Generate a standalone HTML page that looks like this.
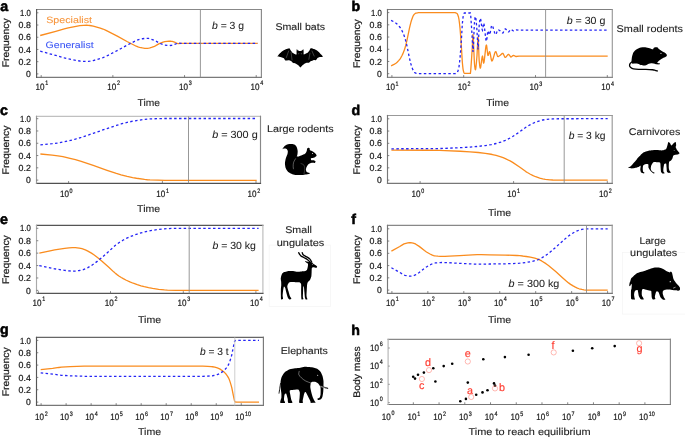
<!DOCTYPE html>
<html><head><meta charset="utf-8"><style>
html,body{margin:0;padding:0;background:#fff;}
svg{display:block;font-family:"Liberation Sans", sans-serif;}
text{text-rendering:geometricPrecision;}
svg{will-change:transform;}
</style></head><body>
<svg width="685" height="437" viewBox="0 0 685 437">
<rect width="685" height="437" fill="#fff"/>
<g>
<text x="0.30" y="10.90" font-size="14.2" text-anchor="start" fill="#000" stroke="#000" stroke-width="0.55" font-weight="bold">a</text>
<line x1="36.60" y1="9.50" x2="261.40" y2="9.50" stroke="#888" stroke-width="1.15" stroke-linecap="square"/>
<line x1="261.40" y1="9.50" x2="261.40" y2="77.30" stroke="#888" stroke-width="1.15" stroke-linecap="square"/>
<line x1="36.60" y1="77.30" x2="261.40" y2="77.30" stroke="#7a7a7a" stroke-width="1.15" stroke-linecap="square"/>
<line x1="36.60" y1="9.50" x2="36.60" y2="77.30" stroke="#555" stroke-width="1.15" stroke-linecap="square"/>
<line x1="36.60" y1="73.90" x2="38.40" y2="73.90" stroke="#666" stroke-width="0.8"/>
<text x="30.90" y="77.00" font-size="8.8" text-anchor="end" fill="#222" stroke="#222" stroke-width="0.22" textLength="4.80" lengthAdjust="spacingAndGlyphs">0</text>
<line x1="36.60" y1="61.68" x2="38.40" y2="61.68" stroke="#666" stroke-width="0.8"/>
<text x="30.90" y="64.78" font-size="8.8" text-anchor="end" fill="#222" stroke="#222" stroke-width="0.22" textLength="12.30" lengthAdjust="spacingAndGlyphs">0.2</text>
<line x1="36.60" y1="49.46" x2="38.40" y2="49.46" stroke="#666" stroke-width="0.8"/>
<text x="30.90" y="52.56" font-size="8.8" text-anchor="end" fill="#222" stroke="#222" stroke-width="0.22" textLength="12.30" lengthAdjust="spacingAndGlyphs">0.4</text>
<line x1="36.60" y1="37.24" x2="38.40" y2="37.24" stroke="#666" stroke-width="0.8"/>
<text x="30.90" y="40.34" font-size="8.8" text-anchor="end" fill="#222" stroke="#222" stroke-width="0.22" textLength="12.30" lengthAdjust="spacingAndGlyphs">0.6</text>
<line x1="36.60" y1="25.02" x2="38.40" y2="25.02" stroke="#666" stroke-width="0.8"/>
<text x="30.90" y="28.12" font-size="8.8" text-anchor="end" fill="#222" stroke="#222" stroke-width="0.22" textLength="12.30" lengthAdjust="spacingAndGlyphs">0.8</text>
<line x1="36.60" y1="12.80" x2="38.40" y2="12.80" stroke="#666" stroke-width="0.8"/>
<text x="30.90" y="15.90" font-size="8.8" text-anchor="end" fill="#222" stroke="#222" stroke-width="0.22" textLength="10.80" lengthAdjust="spacingAndGlyphs">1.0</text>
<line x1="41.20" y1="77.30" x2="41.20" y2="75.10" stroke="#666" stroke-width="0.8"/>
<text x="35.60" y="89.70" font-size="9.2" text-anchor="start" fill="#222" stroke="#222" stroke-width="0.22" textLength="9.00" lengthAdjust="spacingAndGlyphs">10</text>
<text x="45.30" y="85.00" font-size="6.4" text-anchor="start" fill="#222" stroke="#222" stroke-width="0.22" textLength="3.00" lengthAdjust="spacingAndGlyphs">1</text>
<line x1="112.87" y1="77.30" x2="112.87" y2="75.10" stroke="#666" stroke-width="0.8"/>
<text x="107.27" y="89.70" font-size="9.2" text-anchor="start" fill="#222" stroke="#222" stroke-width="0.22" textLength="9.00" lengthAdjust="spacingAndGlyphs">10</text>
<text x="116.97" y="85.00" font-size="6.4" text-anchor="start" fill="#222" stroke="#222" stroke-width="0.22" textLength="3.00" lengthAdjust="spacingAndGlyphs">2</text>
<line x1="184.54" y1="77.30" x2="184.54" y2="75.10" stroke="#666" stroke-width="0.8"/>
<text x="178.94" y="89.70" font-size="9.2" text-anchor="start" fill="#222" stroke="#222" stroke-width="0.22" textLength="9.00" lengthAdjust="spacingAndGlyphs">10</text>
<text x="188.64" y="85.00" font-size="6.4" text-anchor="start" fill="#222" stroke="#222" stroke-width="0.22" textLength="3.00" lengthAdjust="spacingAndGlyphs">3</text>
<line x1="256.21" y1="77.30" x2="256.21" y2="75.10" stroke="#666" stroke-width="0.8"/>
<text x="250.61" y="89.70" font-size="9.2" text-anchor="start" fill="#222" stroke="#222" stroke-width="0.22" textLength="9.00" lengthAdjust="spacingAndGlyphs">10</text>
<text x="260.31" y="85.00" font-size="6.4" text-anchor="start" fill="#222" stroke="#222" stroke-width="0.22" textLength="3.00" lengthAdjust="spacingAndGlyphs">4</text>
<text x="148.80" y="105.90" font-size="9.9" text-anchor="middle" fill="#222" stroke="#222" stroke-width="0.1" textLength="22.40" lengthAdjust="spacingAndGlyphs">Time</text>
<text x="9.00" y="42.80" font-size="9.6" text-anchor="middle" fill="#222" stroke="#222" stroke-width="0.22" textLength="48.80" lengthAdjust="spacingAndGlyphs" transform="rotate(-90 9.00 42.80)">Frequency</text>
<path d="M40.20 35.50 55.75 31.30 64.25 28.86 68.25 27.86 76.00 26.33 79.75 25.70 83.50 25.29 86.75 25.21 88.25 25.31 89.75 25.49 93.25 26.17 100.25 28.07 103.00 29.02 105.50 30.11 108.50 31.60 117.75 36.42 127.00 41.47 136.25 46.22 138.00 46.94 139.50 47.39 142.50 47.96 144.75 48.28 146.25 48.39 147.50 48.38 148.75 48.22 150.00 47.92 151.50 47.43 154.50 46.30 155.75 45.67 159.25 43.64 163.00 42.09 164.75 41.63 167.00 41.38 169.00 41.24 170.75 41.21 171.50 41.30 172.25 41.47 175.25 42.49 177.25 43.46 178.00 43.60 181.00 43.40 185.75 43.30 257.70 43.30" fill="none" stroke="#fa8c1e" stroke-width="1.3" stroke-linejoin="round"/>
<path d="M40.20 51.20 55.75 55.40 64.25 57.84 68.25 58.84 76.00 60.37 79.75 61.00 83.50 61.41 86.75 61.49 88.25 61.39 89.75 61.21 93.25 60.53 100.25 58.63 103.00 57.68 105.50 56.59 108.50 55.10 117.75 50.28 127.00 45.23 136.25 40.48 138.00 39.76 139.50 39.31 142.50 38.74 144.75 38.42 146.25 38.31 147.50 38.32 148.75 38.48 150.00 38.78 151.50 39.27 154.50 40.40 155.75 41.03 159.25 43.06 163.00 44.61 164.75 45.07 167.00 45.32 169.00 45.46 170.75 45.49 171.50 45.40 172.25 45.23 175.25 44.21 177.25 43.24 178.00 43.10 181.00 43.30 185.75 43.40 257.70 43.40" fill="none" stroke="#2424f5" stroke-width="1.3" stroke-dasharray="2.5 2.4"/>
<line x1="200.40" y1="9.50" x2="200.40" y2="77.30" stroke="#8c8c8c" stroke-width="0.9"/>
<text x="212.00" y="29.20" font-size="10.4" fill="#222" stroke="#222" stroke-width="0.06" textLength="32.00" lengthAdjust="spacingAndGlyphs"><tspan font-style="italic">b</tspan> = 3 g</text>
<text x="46.20" y="22.80" font-size="9.2" text-anchor="start" fill="#f7943a" stroke="#f7943a" stroke-width="0.08" textLength="45.80" lengthAdjust="spacingAndGlyphs">Specialist</text>
<text x="45.60" y="48.40" font-size="9.2" text-anchor="start" fill="#3a55f5" stroke="#3a55f5" stroke-width="0.08" textLength="48.00" lengthAdjust="spacingAndGlyphs">Generalist</text>
<text x="351.40" y="10.60" font-size="14.2" text-anchor="start" fill="#000" stroke="#000" stroke-width="0.55" font-weight="bold">b</text>
<line x1="387.50" y1="9.50" x2="612.30" y2="9.50" stroke="#808080" stroke-width="1.15" stroke-linecap="square"/>
<line x1="612.30" y1="9.50" x2="612.30" y2="77.30" stroke="#999" stroke-width="1.15" stroke-linecap="square"/>
<line x1="387.50" y1="77.30" x2="612.30" y2="77.30" stroke="#888" stroke-width="1.15" stroke-linecap="square"/>
<line x1="387.50" y1="9.50" x2="387.50" y2="77.30" stroke="#707070" stroke-width="1.15" stroke-linecap="square"/>
<line x1="387.50" y1="73.70" x2="389.30" y2="73.70" stroke="#666" stroke-width="0.8"/>
<text x="381.90" y="76.80" font-size="8.8" text-anchor="end" fill="#222" stroke="#222" stroke-width="0.22" textLength="4.80" lengthAdjust="spacingAndGlyphs">0</text>
<line x1="387.50" y1="61.48" x2="389.30" y2="61.48" stroke="#666" stroke-width="0.8"/>
<text x="381.90" y="64.58" font-size="8.8" text-anchor="end" fill="#222" stroke="#222" stroke-width="0.22" textLength="12.30" lengthAdjust="spacingAndGlyphs">0.2</text>
<line x1="387.50" y1="49.26" x2="389.30" y2="49.26" stroke="#666" stroke-width="0.8"/>
<text x="381.90" y="52.36" font-size="8.8" text-anchor="end" fill="#222" stroke="#222" stroke-width="0.22" textLength="12.30" lengthAdjust="spacingAndGlyphs">0.4</text>
<line x1="387.50" y1="37.04" x2="389.30" y2="37.04" stroke="#666" stroke-width="0.8"/>
<text x="381.90" y="40.14" font-size="8.8" text-anchor="end" fill="#222" stroke="#222" stroke-width="0.22" textLength="12.30" lengthAdjust="spacingAndGlyphs">0.6</text>
<line x1="387.50" y1="24.82" x2="389.30" y2="24.82" stroke="#666" stroke-width="0.8"/>
<text x="381.90" y="27.92" font-size="8.8" text-anchor="end" fill="#222" stroke="#222" stroke-width="0.22" textLength="12.30" lengthAdjust="spacingAndGlyphs">0.8</text>
<line x1="387.50" y1="12.60" x2="389.30" y2="12.60" stroke="#666" stroke-width="0.8"/>
<text x="381.90" y="15.70" font-size="8.8" text-anchor="end" fill="#222" stroke="#222" stroke-width="0.22" textLength="10.80" lengthAdjust="spacingAndGlyphs">1.0</text>
<line x1="391.90" y1="77.30" x2="391.90" y2="75.10" stroke="#666" stroke-width="0.8"/>
<text x="385.90" y="90.30" font-size="9.2" text-anchor="start" fill="#222" stroke="#222" stroke-width="0.22" textLength="9.00" lengthAdjust="spacingAndGlyphs">10</text>
<text x="395.60" y="85.60" font-size="6.4" text-anchor="start" fill="#222" stroke="#222" stroke-width="0.22" textLength="3.00" lengthAdjust="spacingAndGlyphs">1</text>
<line x1="463.70" y1="77.30" x2="463.70" y2="75.10" stroke="#666" stroke-width="0.8"/>
<text x="457.70" y="90.30" font-size="9.2" text-anchor="start" fill="#222" stroke="#222" stroke-width="0.22" textLength="9.00" lengthAdjust="spacingAndGlyphs">10</text>
<text x="467.40" y="85.60" font-size="6.4" text-anchor="start" fill="#222" stroke="#222" stroke-width="0.22" textLength="3.00" lengthAdjust="spacingAndGlyphs">2</text>
<line x1="535.50" y1="77.30" x2="535.50" y2="75.10" stroke="#666" stroke-width="0.8"/>
<text x="529.50" y="90.30" font-size="9.2" text-anchor="start" fill="#222" stroke="#222" stroke-width="0.22" textLength="9.00" lengthAdjust="spacingAndGlyphs">10</text>
<text x="539.20" y="85.60" font-size="6.4" text-anchor="start" fill="#222" stroke="#222" stroke-width="0.22" textLength="3.00" lengthAdjust="spacingAndGlyphs">3</text>
<line x1="607.30" y1="77.30" x2="607.30" y2="75.10" stroke="#666" stroke-width="0.8"/>
<text x="601.30" y="90.30" font-size="9.2" text-anchor="start" fill="#222" stroke="#222" stroke-width="0.22" textLength="9.00" lengthAdjust="spacingAndGlyphs">10</text>
<text x="611.00" y="85.60" font-size="6.4" text-anchor="start" fill="#222" stroke="#222" stroke-width="0.22" textLength="3.00" lengthAdjust="spacingAndGlyphs">4</text>
<text x="497.70" y="105.60" font-size="9.9" text-anchor="middle" fill="#222" stroke="#222" stroke-width="0.1" textLength="22.80" lengthAdjust="spacingAndGlyphs">Time</text>
<text x="359.80" y="43.60" font-size="9.6" text-anchor="middle" fill="#222" stroke="#222" stroke-width="0.22" textLength="48.80" lengthAdjust="spacingAndGlyphs" transform="rotate(-90 359.80 43.60)">Frequency</text>
<path d="M391.10 65.90 393.97 64.42 395.02 63.82 396.32 62.91 397.36 62.01 398.66 60.66 399.96 59.05 400.73 57.88 401.77 56.02 402.80 53.90 403.57 52.10 404.59 49.29 405.37 46.80 406.95 40.41 409.53 27.88 410.07 25.57 410.89 22.38 411.43 20.52 412.70 16.94 413.20 15.81 413.70 15.00 414.47 14.13 415.23 13.46 415.74 13.18 416.26 13.04 417.55 12.81 418.58 12.71 455.00 12.70 455.50 12.76 456.25 13.04 457.00 13.50 457.25 13.76 457.75 14.72 458.50 17.00 459.02 19.72 459.54 23.73 460.05 28.50 460.80 38.00 461.60 50.00 462.13 59.24 462.40 63.00 462.70 66.16 463.00 68.77 463.30 70.50 463.85 72.45 464.12 73.07 464.40 73.30 470.40 73.30 470.70 70.85 471.52 59.33 472.30 47.00 472.65 39.20 473.00 34.30 473.35 38.94 474.23 59.57 474.50 64.00 474.80 66.84 475.10 68.96 475.40 69.80 475.67 69.18 475.93 67.51 476.47 62.04 477.00 55.50 477.83 39.11 478.10 36.80 478.38 40.07 478.93 55.67 479.20 61.00 479.75 65.92 480.02 67.51 480.30 68.10 480.57 67.58 480.85 66.21 481.95 57.89 482.23 56.52 482.50 56.00 482.77 57.12 483.33 62.08 483.60 63.20 483.85 62.78 484.11 61.61 484.36 59.88 485.64 48.32 485.89 46.59 486.15 45.42 486.40 45.00 486.67 45.78 486.93 47.72 487.47 52.78 487.73 54.72 488.00 55.50 488.25 55.21 489.25 51.89 489.50 51.60 489.77 51.92 490.03 52.79 490.30 54.04 491.37 59.81 491.63 60.68 491.90 61.00 492.15 60.88 492.41 60.54 492.66 60.02 493.17 58.56 494.69 53.25 495.19 52.06 495.45 51.72 495.70 51.60 495.97 51.81 496.25 52.38 497.35 55.82 497.62 56.39 497.90 56.60 498.42 56.49 499.21 56.04 500.27 55.30 501.89 53.67 502.43 53.35 502.70 53.30 502.96 53.41 503.22 53.73 504.78 56.97 505.04 57.29 505.30 57.40 505.57 57.34 506.10 56.93 507.70 54.87 508.23 54.46 508.50 54.40 508.75 54.47 509.00 54.67 510.50 56.73 510.75 56.93 511.00 57.00 511.50 56.83 513.00 55.57 513.50 55.40 514.00 55.51 515.50 56.39 516.00 56.50 519.00 56.10 607.70 56.10" fill="none" stroke="#fa8c1e" stroke-width="1.3" stroke-linejoin="round"/>
<path d="M391.10 20.40 393.97 21.88 395.02 22.48 396.32 23.39 397.36 24.29 398.66 25.64 399.96 27.25 400.73 28.42 401.77 30.28 402.80 32.40 403.57 34.20 404.59 37.01 405.37 39.50 406.95 45.89 409.53 58.42 410.07 60.73 410.89 63.92 411.43 65.78 412.70 69.36 413.20 70.49 413.70 71.30 414.47 72.17 415.23 72.84 415.74 73.12 416.26 73.26 417.55 73.49 418.58 73.59 455.00 73.60 455.50 73.54 456.25 73.26 457.00 72.80 457.25 72.54 457.75 71.58 458.50 69.30 459.02 66.58 459.54 62.57 460.05 57.80 460.80 48.30 461.60 36.30 462.13 27.06 462.40 23.30 462.70 20.14 463.00 17.53 463.30 15.80 463.85 13.85 464.12 13.23 464.40 13.00 470.40 13.00 470.70 15.45 471.52 26.97 472.30 39.30 472.65 47.10 473.00 52.00 473.35 47.36 474.23 26.73 474.50 22.30 474.80 19.46 475.10 17.34 475.40 16.50 475.67 17.12 475.93 18.79 476.47 24.26 477.00 30.80 477.83 47.19 478.10 49.50 478.38 46.23 478.93 30.63 479.20 25.30 479.75 20.38 480.02 18.79 480.30 18.20 480.57 18.72 480.85 20.09 481.95 28.41 482.23 29.78 482.50 30.30 482.77 29.17 483.33 24.22 483.60 23.10 483.85 23.52 484.11 24.69 484.36 26.42 485.64 37.98 485.89 39.71 486.15 40.88 486.40 41.30 486.67 40.52 486.93 38.58 487.47 33.52 487.73 31.58 488.00 30.80 488.25 31.09 489.25 34.41 489.50 34.70 489.77 34.38 490.03 33.51 490.30 32.26 491.37 26.49 491.63 25.62 491.90 25.30 492.15 25.42 492.41 25.76 492.66 26.28 493.17 27.74 494.69 33.05 495.19 34.24 495.45 34.58 495.70 34.70 495.97 34.49 496.25 33.92 497.35 30.48 497.62 29.91 497.90 29.70 498.42 29.81 499.21 30.26 500.27 31.00 501.89 32.63 502.43 32.95 502.70 33.00 502.96 32.89 503.22 32.57 504.78 29.33 505.04 29.01 505.30 28.90 505.57 28.96 506.10 29.37 507.70 31.43 508.23 31.84 508.50 31.90 508.75 31.83 509.00 31.63 510.50 29.57 510.75 29.37 511.00 29.30 511.50 29.47 513.00 30.73 513.50 30.90 514.00 30.79 515.50 29.91 516.00 29.80 519.00 30.20 607.70 30.20" fill="none" stroke="#2424f5" stroke-width="1.3" stroke-dasharray="2.5 2.4"/>
<line x1="545.60" y1="9.50" x2="545.60" y2="77.30" stroke="#8c8c8c" stroke-width="0.9"/>
<text x="566.70" y="24.30" font-size="10.4" fill="#222" stroke="#222" stroke-width="0.06" textLength="38.60" lengthAdjust="spacingAndGlyphs"><tspan font-style="italic">b</tspan> = 30 g</text>
<text x="0.10" y="114.50" font-size="14.2" text-anchor="start" fill="#000" stroke="#000" stroke-width="0.55" font-weight="bold">c</text>
<line x1="36.50" y1="116.30" x2="260.50" y2="116.30" stroke="#c0c0c0" stroke-width="1.15" stroke-linecap="square"/>
<line x1="260.50" y1="116.30" x2="260.50" y2="183.30" stroke="#888" stroke-width="1.15" stroke-linecap="square"/>
<line x1="36.50" y1="183.30" x2="260.50" y2="183.30" stroke="#505050" stroke-width="1.15" stroke-linecap="square"/>
<line x1="36.50" y1="116.30" x2="36.50" y2="183.30" stroke="#999" stroke-width="1.15" stroke-linecap="square"/>
<line x1="36.50" y1="180.10" x2="38.30" y2="180.10" stroke="#666" stroke-width="0.8"/>
<text x="30.90" y="183.20" font-size="8.8" text-anchor="end" fill="#222" stroke="#222" stroke-width="0.22" textLength="4.80" lengthAdjust="spacingAndGlyphs">0</text>
<line x1="36.50" y1="167.82" x2="38.30" y2="167.82" stroke="#666" stroke-width="0.8"/>
<text x="30.90" y="170.92" font-size="8.8" text-anchor="end" fill="#222" stroke="#222" stroke-width="0.22" textLength="12.30" lengthAdjust="spacingAndGlyphs">0.2</text>
<line x1="36.50" y1="155.54" x2="38.30" y2="155.54" stroke="#666" stroke-width="0.8"/>
<text x="30.90" y="158.64" font-size="8.8" text-anchor="end" fill="#222" stroke="#222" stroke-width="0.22" textLength="12.30" lengthAdjust="spacingAndGlyphs">0.4</text>
<line x1="36.50" y1="143.26" x2="38.30" y2="143.26" stroke="#666" stroke-width="0.8"/>
<text x="30.90" y="146.36" font-size="8.8" text-anchor="end" fill="#222" stroke="#222" stroke-width="0.22" textLength="12.30" lengthAdjust="spacingAndGlyphs">0.6</text>
<line x1="36.50" y1="130.98" x2="38.30" y2="130.98" stroke="#666" stroke-width="0.8"/>
<text x="30.90" y="134.08" font-size="8.8" text-anchor="end" fill="#222" stroke="#222" stroke-width="0.22" textLength="12.30" lengthAdjust="spacingAndGlyphs">0.8</text>
<line x1="36.50" y1="118.70" x2="38.30" y2="118.70" stroke="#666" stroke-width="0.8"/>
<text x="30.90" y="121.80" font-size="8.8" text-anchor="end" fill="#222" stroke="#222" stroke-width="0.22" textLength="10.80" lengthAdjust="spacingAndGlyphs">1.0</text>
<line x1="68.60" y1="183.30" x2="68.60" y2="181.10" stroke="#666" stroke-width="0.8"/>
<text x="59.90" y="197.40" font-size="9.2" text-anchor="start" fill="#222" stroke="#222" stroke-width="0.22" textLength="9.00" lengthAdjust="spacingAndGlyphs">10</text>
<text x="69.60" y="192.70" font-size="6.4" text-anchor="start" fill="#222" stroke="#222" stroke-width="0.22" textLength="3.00" lengthAdjust="spacingAndGlyphs">0</text>
<line x1="162.40" y1="183.30" x2="162.40" y2="181.10" stroke="#666" stroke-width="0.8"/>
<text x="156.30" y="197.40" font-size="9.2" text-anchor="start" fill="#222" stroke="#222" stroke-width="0.22" textLength="9.00" lengthAdjust="spacingAndGlyphs">10</text>
<text x="166.00" y="192.70" font-size="6.4" text-anchor="start" fill="#222" stroke="#222" stroke-width="0.22" textLength="3.00" lengthAdjust="spacingAndGlyphs">1</text>
<line x1="256.00" y1="183.30" x2="256.00" y2="181.10" stroke="#666" stroke-width="0.8"/>
<text x="247.60" y="197.40" font-size="9.2" text-anchor="start" fill="#222" stroke="#222" stroke-width="0.22" textLength="9.00" lengthAdjust="spacingAndGlyphs">10</text>
<text x="257.30" y="192.70" font-size="6.4" text-anchor="start" fill="#222" stroke="#222" stroke-width="0.22" textLength="3.00" lengthAdjust="spacingAndGlyphs">2</text>
<text x="148.60" y="211.60" font-size="9.9" text-anchor="middle" fill="#222" stroke="#222" stroke-width="0.1" textLength="23.00" lengthAdjust="spacingAndGlyphs">Time</text>
<text x="9.00" y="150.00" font-size="9.6" text-anchor="middle" fill="#222" stroke="#222" stroke-width="0.22" textLength="48.80" lengthAdjust="spacingAndGlyphs" transform="rotate(-90 9.00 150.00)">Frequency</text>
<path d="M40.40 154.00 52.15 155.11 57.90 155.80 62.92 156.67 68.94 158.03 75.45 159.70 81.20 161.44 93.21 165.45 107.04 170.28 116.33 173.37 121.09 174.82 127.13 176.37 132.67 177.59 136.45 178.26 144.57 179.45 147.36 179.74 149.90 179.90 157.90 180.17 164.90 180.29 256.70 180.30" fill="none" stroke="#fa8c1e" stroke-width="1.3" stroke-linejoin="round"/>
<path d="M40.40 144.80 52.15 143.69 57.90 143.00 62.92 142.13 68.94 140.77 75.45 139.10 81.20 137.36 93.21 133.35 107.04 128.52 116.33 125.43 121.09 123.98 127.13 122.43 132.67 121.21 136.45 120.54 144.57 119.35 147.36 119.06 149.90 118.90 157.90 118.63 164.90 118.51 256.70 118.50" fill="none" stroke="#2424f5" stroke-width="1.3" stroke-dasharray="2.5 2.4"/>
<line x1="188.50" y1="116.30" x2="188.50" y2="183.30" stroke="#8c8c8c" stroke-width="0.9"/>
<text x="212.20" y="138.20" font-size="10.4" fill="#222" stroke="#222" stroke-width="0.06" textLength="45.50" lengthAdjust="spacingAndGlyphs"><tspan font-style="italic">b</tspan> = 300 g</text>
<text x="351.60" y="114.50" font-size="14.2" text-anchor="start" fill="#000" stroke="#000" stroke-width="0.55" font-weight="bold">d</text>
<line x1="387.50" y1="115.50" x2="612.20" y2="115.50" stroke="#999" stroke-width="1.15" stroke-linecap="square"/>
<line x1="612.20" y1="115.50" x2="612.20" y2="183.30" stroke="#999" stroke-width="1.15" stroke-linecap="square"/>
<line x1="387.50" y1="183.30" x2="612.20" y2="183.30" stroke="#777" stroke-width="1.15" stroke-linecap="square"/>
<line x1="387.50" y1="115.50" x2="387.50" y2="183.30" stroke="#777" stroke-width="1.15" stroke-linecap="square"/>
<line x1="387.50" y1="180.10" x2="389.30" y2="180.10" stroke="#666" stroke-width="0.8"/>
<text x="381.90" y="183.20" font-size="8.8" text-anchor="end" fill="#222" stroke="#222" stroke-width="0.22" textLength="4.80" lengthAdjust="spacingAndGlyphs">0</text>
<line x1="387.50" y1="167.84" x2="389.30" y2="167.84" stroke="#666" stroke-width="0.8"/>
<text x="381.90" y="170.94" font-size="8.8" text-anchor="end" fill="#222" stroke="#222" stroke-width="0.22" textLength="12.30" lengthAdjust="spacingAndGlyphs">0.2</text>
<line x1="387.50" y1="155.58" x2="389.30" y2="155.58" stroke="#666" stroke-width="0.8"/>
<text x="381.90" y="158.68" font-size="8.8" text-anchor="end" fill="#222" stroke="#222" stroke-width="0.22" textLength="12.30" lengthAdjust="spacingAndGlyphs">0.4</text>
<line x1="387.50" y1="143.32" x2="389.30" y2="143.32" stroke="#666" stroke-width="0.8"/>
<text x="381.90" y="146.42" font-size="8.8" text-anchor="end" fill="#222" stroke="#222" stroke-width="0.22" textLength="12.30" lengthAdjust="spacingAndGlyphs">0.6</text>
<line x1="387.50" y1="131.06" x2="389.30" y2="131.06" stroke="#666" stroke-width="0.8"/>
<text x="381.90" y="134.16" font-size="8.8" text-anchor="end" fill="#222" stroke="#222" stroke-width="0.22" textLength="12.30" lengthAdjust="spacingAndGlyphs">0.8</text>
<line x1="387.50" y1="118.80" x2="389.30" y2="118.80" stroke="#666" stroke-width="0.8"/>
<text x="381.90" y="121.90" font-size="8.8" text-anchor="end" fill="#222" stroke="#222" stroke-width="0.22" textLength="10.80" lengthAdjust="spacingAndGlyphs">1.0</text>
<line x1="420.10" y1="183.30" x2="420.10" y2="181.10" stroke="#666" stroke-width="0.8"/>
<text x="411.50" y="197.40" font-size="9.2" text-anchor="start" fill="#222" stroke="#222" stroke-width="0.22" textLength="9.00" lengthAdjust="spacingAndGlyphs">10</text>
<text x="421.20" y="192.70" font-size="6.4" text-anchor="start" fill="#222" stroke="#222" stroke-width="0.22" textLength="3.00" lengthAdjust="spacingAndGlyphs">0</text>
<line x1="513.60" y1="183.30" x2="513.60" y2="181.10" stroke="#666" stroke-width="0.8"/>
<text x="507.30" y="197.40" font-size="9.2" text-anchor="start" fill="#222" stroke="#222" stroke-width="0.22" textLength="9.00" lengthAdjust="spacingAndGlyphs">10</text>
<text x="517.00" y="192.70" font-size="6.4" text-anchor="start" fill="#222" stroke="#222" stroke-width="0.22" textLength="3.00" lengthAdjust="spacingAndGlyphs">1</text>
<line x1="607.30" y1="183.30" x2="607.30" y2="181.10" stroke="#666" stroke-width="0.8"/>
<text x="599.00" y="197.40" font-size="9.2" text-anchor="start" fill="#222" stroke="#222" stroke-width="0.22" textLength="9.00" lengthAdjust="spacingAndGlyphs">10</text>
<text x="608.70" y="192.70" font-size="6.4" text-anchor="start" fill="#222" stroke="#222" stroke-width="0.22" textLength="3.00" lengthAdjust="spacingAndGlyphs">2</text>
<text x="499.60" y="215.80" font-size="9.9" text-anchor="middle" fill="#222" stroke="#222" stroke-width="0.1" textLength="23.10" lengthAdjust="spacingAndGlyphs">Time</text>
<text x="359.80" y="150.00" font-size="9.6" text-anchor="middle" fill="#222" stroke="#222" stroke-width="0.22" textLength="48.80" lengthAdjust="spacingAndGlyphs" transform="rotate(-90 359.80 150.00)">Frequency</text>
<path d="M391.40 150.10 426.94 150.25 439.50 150.39 445.00 150.53 460.25 151.24 470.00 151.82 478.27 152.50 485.32 153.33 491.10 154.26 493.60 154.79 496.10 155.40 500.85 156.81 503.10 157.64 505.35 158.59 510.10 160.90 512.66 162.37 519.55 167.02 525.84 171.59 527.35 172.55 530.37 174.25 533.13 175.66 535.65 176.73 539.73 178.08 542.80 178.89 545.35 179.33 549.94 179.82 552.75 179.99 558.50 180.16 607.70 180.20" fill="none" stroke="#fa8c1e" stroke-width="1.3" stroke-linejoin="round"/>
<path d="M391.40 148.80 426.94 148.65 439.50 148.51 445.00 148.37 460.25 147.66 470.00 147.08 478.27 146.40 485.32 145.57 491.10 144.64 493.60 144.11 496.10 143.50 500.85 142.09 503.10 141.26 505.35 140.31 510.10 138.00 512.66 136.53 519.55 131.88 525.84 127.31 527.35 126.35 530.37 124.65 533.13 123.24 535.65 122.17 539.73 120.82 542.80 120.01 545.35 119.57 549.94 119.08 552.75 118.91 558.50 118.74 607.70 118.70" fill="none" stroke="#2424f5" stroke-width="1.3" stroke-dasharray="2.5 2.4"/>
<line x1="564.20" y1="115.50" x2="564.20" y2="183.30" stroke="#8c8c8c" stroke-width="0.9"/>
<text x="568.70" y="139.20" font-size="10.4" fill="#222" stroke="#222" stroke-width="0.06" textLength="36.80" lengthAdjust="spacingAndGlyphs"><tspan font-style="italic">b</tspan> = 3 kg</text>
<text x="0.10" y="224.30" font-size="14.2" text-anchor="start" fill="#000" stroke="#000" stroke-width="0.55" font-weight="bold">e</text>
<line x1="36.50" y1="225.40" x2="262.90" y2="225.40" stroke="#555" stroke-width="1.15" stroke-linecap="square"/>
<line x1="262.90" y1="225.40" x2="262.90" y2="293.40" stroke="#bbb" stroke-width="1.15" stroke-linecap="square"/>
<line x1="36.50" y1="293.40" x2="262.90" y2="293.40" stroke="#555" stroke-width="1.15" stroke-linecap="square"/>
<line x1="36.50" y1="225.40" x2="36.50" y2="293.40" stroke="#aaa" stroke-width="1.15" stroke-linecap="square"/>
<line x1="36.50" y1="290.40" x2="38.30" y2="290.40" stroke="#666" stroke-width="0.8"/>
<text x="30.90" y="293.50" font-size="8.8" text-anchor="end" fill="#222" stroke="#222" stroke-width="0.22" textLength="4.80" lengthAdjust="spacingAndGlyphs">0</text>
<line x1="36.50" y1="277.98" x2="38.30" y2="277.98" stroke="#666" stroke-width="0.8"/>
<text x="30.90" y="281.08" font-size="8.8" text-anchor="end" fill="#222" stroke="#222" stroke-width="0.22" textLength="12.30" lengthAdjust="spacingAndGlyphs">0.2</text>
<line x1="36.50" y1="265.56" x2="38.30" y2="265.56" stroke="#666" stroke-width="0.8"/>
<text x="30.90" y="268.66" font-size="8.8" text-anchor="end" fill="#222" stroke="#222" stroke-width="0.22" textLength="12.30" lengthAdjust="spacingAndGlyphs">0.4</text>
<line x1="36.50" y1="253.14" x2="38.30" y2="253.14" stroke="#666" stroke-width="0.8"/>
<text x="30.90" y="256.24" font-size="8.8" text-anchor="end" fill="#222" stroke="#222" stroke-width="0.22" textLength="12.30" lengthAdjust="spacingAndGlyphs">0.6</text>
<line x1="36.50" y1="240.72" x2="38.30" y2="240.72" stroke="#666" stroke-width="0.8"/>
<text x="30.90" y="243.82" font-size="8.8" text-anchor="end" fill="#222" stroke="#222" stroke-width="0.22" textLength="12.30" lengthAdjust="spacingAndGlyphs">0.8</text>
<line x1="36.50" y1="228.30" x2="38.30" y2="228.30" stroke="#666" stroke-width="0.8"/>
<text x="30.90" y="231.40" font-size="8.8" text-anchor="end" fill="#222" stroke="#222" stroke-width="0.22" textLength="10.80" lengthAdjust="spacingAndGlyphs">1.0</text>
<line x1="38.40" y1="293.40" x2="38.40" y2="291.20" stroke="#666" stroke-width="0.8"/>
<text x="32.60" y="306.00" font-size="9.2" text-anchor="start" fill="#222" stroke="#222" stroke-width="0.22" textLength="9.00" lengthAdjust="spacingAndGlyphs">10</text>
<text x="42.30" y="301.30" font-size="6.4" text-anchor="start" fill="#222" stroke="#222" stroke-width="0.22" textLength="3.00" lengthAdjust="spacingAndGlyphs">1</text>
<line x1="110.50" y1="293.40" x2="110.50" y2="291.20" stroke="#666" stroke-width="0.8"/>
<text x="104.70" y="306.00" font-size="9.2" text-anchor="start" fill="#222" stroke="#222" stroke-width="0.22" textLength="9.00" lengthAdjust="spacingAndGlyphs">10</text>
<text x="114.40" y="301.30" font-size="6.4" text-anchor="start" fill="#222" stroke="#222" stroke-width="0.22" textLength="3.00" lengthAdjust="spacingAndGlyphs">2</text>
<line x1="183.30" y1="293.40" x2="183.30" y2="291.20" stroke="#666" stroke-width="0.8"/>
<text x="177.50" y="306.00" font-size="9.2" text-anchor="start" fill="#222" stroke="#222" stroke-width="0.22" textLength="9.00" lengthAdjust="spacingAndGlyphs">10</text>
<text x="187.20" y="301.30" font-size="6.4" text-anchor="start" fill="#222" stroke="#222" stroke-width="0.22" textLength="3.00" lengthAdjust="spacingAndGlyphs">3</text>
<line x1="255.90" y1="293.40" x2="255.90" y2="291.20" stroke="#666" stroke-width="0.8"/>
<text x="250.10" y="306.00" font-size="9.2" text-anchor="start" fill="#222" stroke="#222" stroke-width="0.22" textLength="9.00" lengthAdjust="spacingAndGlyphs">10</text>
<text x="259.80" y="301.30" font-size="6.4" text-anchor="start" fill="#222" stroke="#222" stroke-width="0.22" textLength="3.00" lengthAdjust="spacingAndGlyphs">4</text>
<text x="149.60" y="322.50" font-size="9.9" text-anchor="middle" fill="#222" stroke="#222" stroke-width="0.1" textLength="23.10" lengthAdjust="spacingAndGlyphs">Time</text>
<text x="9.00" y="259.70" font-size="9.6" text-anchor="middle" fill="#222" stroke="#222" stroke-width="0.22" textLength="48.80" lengthAdjust="spacingAndGlyphs" transform="rotate(-90 9.00 259.70)">Frequency</text>
<path d="M39.30 253.10 50.11 250.81 54.63 249.93 64.67 248.35 68.94 247.82 72.45 247.61 73.95 247.61 75.46 247.70 77.22 247.88 79.23 248.19 82.00 248.70 83.28 249.03 85.33 249.81 87.89 251.11 91.45 253.14 94.22 255.03 97.49 257.58 102.01 261.30 109.07 267.59 113.67 271.86 115.72 273.62 117.00 274.60 119.26 276.18 121.27 277.47 123.29 278.66 126.31 280.25 129.89 281.90 133.22 283.23 137.25 284.65 141.00 285.82 144.25 286.70 148.54 287.66 152.60 288.43 158.65 289.29 164.40 289.91 167.40 290.10 175.72 290.36 180.00 290.40 258.60 290.40" fill="none" stroke="#fa8c1e" stroke-width="1.3" stroke-linejoin="round"/>
<path d="M39.30 265.60 50.11 267.89 54.63 268.77 64.67 270.35 68.94 270.88 72.45 271.09 73.95 271.09 75.46 271.00 77.22 270.82 79.23 270.51 82.00 270.00 83.28 269.67 85.33 268.89 87.89 267.59 91.45 265.56 94.22 263.67 97.49 261.12 102.01 257.40 109.07 251.11 113.67 246.84 115.72 245.08 117.00 244.10 119.26 242.52 121.27 241.23 123.29 240.04 126.31 238.45 129.89 236.80 133.22 235.47 137.25 234.05 141.00 232.88 144.25 232.00 148.54 231.04 152.60 230.27 158.65 229.41 164.40 228.79 167.40 228.60 175.72 228.34 180.00 228.30 258.60 228.30" fill="none" stroke="#2424f5" stroke-width="1.3" stroke-dasharray="2.5 2.4"/>
<line x1="189.20" y1="225.40" x2="189.20" y2="293.40" stroke="#8c8c8c" stroke-width="0.9"/>
<text x="212.40" y="248.80" font-size="10.4" fill="#222" stroke="#222" stroke-width="0.06" textLength="43.50" lengthAdjust="spacingAndGlyphs"><tspan font-style="italic">b</tspan> = 30 kg</text>
<text x="351.30" y="224.10" font-size="14.2" text-anchor="start" fill="#000" stroke="#000" stroke-width="0.55" font-weight="bold">f</text>
<line x1="387.50" y1="225.40" x2="612.20" y2="225.40" stroke="#888" stroke-width="1.15" stroke-linecap="square"/>
<line x1="612.20" y1="225.40" x2="612.20" y2="293.30" stroke="#999" stroke-width="1.15" stroke-linecap="square"/>
<line x1="387.50" y1="293.30" x2="612.20" y2="293.30" stroke="#777" stroke-width="1.15" stroke-linecap="square"/>
<line x1="387.50" y1="225.40" x2="387.50" y2="293.30" stroke="#777" stroke-width="1.15" stroke-linecap="square"/>
<line x1="387.50" y1="290.10" x2="389.30" y2="290.10" stroke="#666" stroke-width="0.8"/>
<text x="381.90" y="293.20" font-size="8.8" text-anchor="end" fill="#222" stroke="#222" stroke-width="0.22" textLength="4.80" lengthAdjust="spacingAndGlyphs">0</text>
<line x1="387.50" y1="277.84" x2="389.30" y2="277.84" stroke="#666" stroke-width="0.8"/>
<text x="381.90" y="280.94" font-size="8.8" text-anchor="end" fill="#222" stroke="#222" stroke-width="0.22" textLength="12.30" lengthAdjust="spacingAndGlyphs">0.2</text>
<line x1="387.50" y1="265.58" x2="389.30" y2="265.58" stroke="#666" stroke-width="0.8"/>
<text x="381.90" y="268.68" font-size="8.8" text-anchor="end" fill="#222" stroke="#222" stroke-width="0.22" textLength="12.30" lengthAdjust="spacingAndGlyphs">0.4</text>
<line x1="387.50" y1="253.32" x2="389.30" y2="253.32" stroke="#666" stroke-width="0.8"/>
<text x="381.90" y="256.42" font-size="8.8" text-anchor="end" fill="#222" stroke="#222" stroke-width="0.22" textLength="12.30" lengthAdjust="spacingAndGlyphs">0.6</text>
<line x1="387.50" y1="241.06" x2="389.30" y2="241.06" stroke="#666" stroke-width="0.8"/>
<text x="381.90" y="244.16" font-size="8.8" text-anchor="end" fill="#222" stroke="#222" stroke-width="0.22" textLength="12.30" lengthAdjust="spacingAndGlyphs">0.8</text>
<line x1="387.50" y1="228.80" x2="389.30" y2="228.80" stroke="#666" stroke-width="0.8"/>
<text x="381.90" y="231.90" font-size="8.8" text-anchor="end" fill="#222" stroke="#222" stroke-width="0.22" textLength="10.80" lengthAdjust="spacingAndGlyphs">1.0</text>
<line x1="391.90" y1="293.30" x2="391.90" y2="291.10" stroke="#666" stroke-width="0.8"/>
<text x="386.10" y="306.00" font-size="9.2" text-anchor="start" fill="#222" stroke="#222" stroke-width="0.22" textLength="9.00" lengthAdjust="spacingAndGlyphs">10</text>
<text x="395.80" y="301.30" font-size="6.4" text-anchor="start" fill="#222" stroke="#222" stroke-width="0.22" textLength="3.00" lengthAdjust="spacingAndGlyphs">1</text>
<line x1="427.85" y1="293.30" x2="427.85" y2="291.10" stroke="#666" stroke-width="0.8"/>
<text x="422.05" y="306.00" font-size="9.2" text-anchor="start" fill="#222" stroke="#222" stroke-width="0.22" textLength="9.00" lengthAdjust="spacingAndGlyphs">10</text>
<text x="431.75" y="301.30" font-size="6.4" text-anchor="start" fill="#222" stroke="#222" stroke-width="0.22" textLength="3.00" lengthAdjust="spacingAndGlyphs">2</text>
<line x1="463.80" y1="293.30" x2="463.80" y2="291.10" stroke="#666" stroke-width="0.8"/>
<text x="458.00" y="306.00" font-size="9.2" text-anchor="start" fill="#222" stroke="#222" stroke-width="0.22" textLength="9.00" lengthAdjust="spacingAndGlyphs">10</text>
<text x="467.70" y="301.30" font-size="6.4" text-anchor="start" fill="#222" stroke="#222" stroke-width="0.22" textLength="3.00" lengthAdjust="spacingAndGlyphs">3</text>
<line x1="499.75" y1="293.30" x2="499.75" y2="291.10" stroke="#666" stroke-width="0.8"/>
<text x="493.95" y="306.00" font-size="9.2" text-anchor="start" fill="#222" stroke="#222" stroke-width="0.22" textLength="9.00" lengthAdjust="spacingAndGlyphs">10</text>
<text x="503.65" y="301.30" font-size="6.4" text-anchor="start" fill="#222" stroke="#222" stroke-width="0.22" textLength="3.00" lengthAdjust="spacingAndGlyphs">4</text>
<line x1="535.70" y1="293.30" x2="535.70" y2="291.10" stroke="#666" stroke-width="0.8"/>
<text x="529.90" y="306.00" font-size="9.2" text-anchor="start" fill="#222" stroke="#222" stroke-width="0.22" textLength="9.00" lengthAdjust="spacingAndGlyphs">10</text>
<text x="539.60" y="301.30" font-size="6.4" text-anchor="start" fill="#222" stroke="#222" stroke-width="0.22" textLength="3.00" lengthAdjust="spacingAndGlyphs">5</text>
<line x1="571.65" y1="293.30" x2="571.65" y2="291.10" stroke="#666" stroke-width="0.8"/>
<text x="565.85" y="306.00" font-size="9.2" text-anchor="start" fill="#222" stroke="#222" stroke-width="0.22" textLength="9.00" lengthAdjust="spacingAndGlyphs">10</text>
<text x="575.55" y="301.30" font-size="6.4" text-anchor="start" fill="#222" stroke="#222" stroke-width="0.22" textLength="3.00" lengthAdjust="spacingAndGlyphs">6</text>
<line x1="607.60" y1="293.30" x2="607.60" y2="291.10" stroke="#666" stroke-width="0.8"/>
<text x="601.80" y="306.00" font-size="9.2" text-anchor="start" fill="#222" stroke="#222" stroke-width="0.22" textLength="9.00" lengthAdjust="spacingAndGlyphs">10</text>
<text x="611.50" y="301.30" font-size="6.4" text-anchor="start" fill="#222" stroke="#222" stroke-width="0.22" textLength="3.00" lengthAdjust="spacingAndGlyphs">7</text>
<text x="499.60" y="323.40" font-size="9.9" text-anchor="middle" fill="#222" stroke="#222" stroke-width="0.1" textLength="23.10" lengthAdjust="spacingAndGlyphs">Time</text>
<text x="359.80" y="259.70" font-size="9.6" text-anchor="middle" fill="#222" stroke="#222" stroke-width="0.22" textLength="48.80" lengthAdjust="spacingAndGlyphs" transform="rotate(-90 359.80 259.70)">Frequency</text>
<path d="M391.40 251.10 399.75 246.46 402.75 244.59 404.00 243.95 405.00 243.60 407.80 242.98 409.33 242.76 410.86 242.71 411.90 242.84 413.20 243.18 414.76 243.69 415.82 244.20 419.20 246.38 424.45 250.58 426.45 251.96 430.01 253.99 431.79 254.89 433.57 255.57 434.59 255.82 435.35 255.93 437.87 256.20 440.14 256.36 441.90 256.40 444.91 256.36 449.42 256.17 459.69 255.53 472.45 254.87 477.20 254.72 481.21 254.71 489.50 254.89 505.04 255.09 516.90 255.50 519.69 255.69 522.72 256.02 526.27 256.51 530.30 257.16 532.55 257.61 534.80 258.16 537.05 258.82 538.57 259.38 540.10 260.10 541.63 260.94 545.95 263.66 548.45 265.48 551.45 267.95 555.70 271.60 561.95 277.25 566.52 281.22 568.55 282.90 570.59 284.38 573.10 285.91 575.35 287.18 577.35 288.13 579.10 288.76 581.87 289.47 583.88 289.88 585.64 290.08 607.70 290.10" fill="none" stroke="#fa8c1e" stroke-width="1.3" stroke-linejoin="round"/>
<path d="M391.40 267.80 399.75 272.44 402.75 274.31 404.00 274.95 405.00 275.30 407.80 275.92 409.33 276.14 410.86 276.19 411.90 276.06 413.20 275.72 414.76 275.21 415.82 274.70 419.20 272.52 424.45 268.32 426.45 266.94 430.01 264.91 431.79 264.01 433.57 263.33 434.59 263.08 435.35 262.97 437.87 262.70 440.14 262.54 441.90 262.50 444.91 262.54 449.42 262.73 459.69 263.37 472.45 264.03 477.20 264.18 481.21 264.19 489.50 264.01 505.04 263.81 516.90 263.40 519.69 263.21 522.72 262.88 526.27 262.39 530.30 261.74 532.55 261.29 534.80 260.74 537.05 260.08 538.57 259.52 540.10 258.80 541.63 257.96 545.95 255.24 548.45 253.42 551.45 250.95 555.70 247.30 561.95 241.65 566.52 237.68 568.55 236.00 570.59 234.52 573.10 232.99 575.35 231.72 577.35 230.77 579.10 230.14 581.87 229.43 583.88 229.02 585.64 228.82 607.70 228.80" fill="none" stroke="#2424f5" stroke-width="1.3" stroke-dasharray="2.5 2.4"/>
<line x1="586.50" y1="225.40" x2="586.50" y2="293.30" stroke="#8c8c8c" stroke-width="0.9"/>
<text x="508.60" y="286.80" font-size="10.4" fill="#222" stroke="#222" stroke-width="0.06" textLength="50.70" lengthAdjust="spacingAndGlyphs"><tspan font-style="italic">b</tspan> = 300 kg</text>
<text x="0.10" y="333.80" font-size="14.2" text-anchor="start" fill="#000" stroke="#000" stroke-width="0.55" font-weight="bold">g</text>
<line x1="36.50" y1="337.40" x2="263.40" y2="337.40" stroke="#666" stroke-width="1.15" stroke-linecap="square"/>
<line x1="263.40" y1="337.40" x2="263.40" y2="405.40" stroke="#777" stroke-width="1.15" stroke-linecap="square"/>
<line x1="36.50" y1="405.40" x2="263.40" y2="405.40" stroke="#777" stroke-width="1.15" stroke-linecap="square"/>
<line x1="36.50" y1="337.40" x2="36.50" y2="405.40" stroke="#555" stroke-width="1.15" stroke-linecap="square"/>
<line x1="36.50" y1="402.10" x2="38.30" y2="402.10" stroke="#666" stroke-width="0.8"/>
<text x="30.90" y="405.20" font-size="8.8" text-anchor="end" fill="#222" stroke="#222" stroke-width="0.22" textLength="4.80" lengthAdjust="spacingAndGlyphs">0</text>
<line x1="36.50" y1="389.76" x2="38.30" y2="389.76" stroke="#666" stroke-width="0.8"/>
<text x="30.90" y="392.86" font-size="8.8" text-anchor="end" fill="#222" stroke="#222" stroke-width="0.22" textLength="12.30" lengthAdjust="spacingAndGlyphs">0.2</text>
<line x1="36.50" y1="377.42" x2="38.30" y2="377.42" stroke="#666" stroke-width="0.8"/>
<text x="30.90" y="380.52" font-size="8.8" text-anchor="end" fill="#222" stroke="#222" stroke-width="0.22" textLength="12.30" lengthAdjust="spacingAndGlyphs">0.4</text>
<line x1="36.50" y1="365.08" x2="38.30" y2="365.08" stroke="#666" stroke-width="0.8"/>
<text x="30.90" y="368.18" font-size="8.8" text-anchor="end" fill="#222" stroke="#222" stroke-width="0.22" textLength="12.30" lengthAdjust="spacingAndGlyphs">0.6</text>
<line x1="36.50" y1="352.74" x2="38.30" y2="352.74" stroke="#666" stroke-width="0.8"/>
<text x="30.90" y="355.84" font-size="8.8" text-anchor="end" fill="#222" stroke="#222" stroke-width="0.22" textLength="12.30" lengthAdjust="spacingAndGlyphs">0.8</text>
<line x1="36.50" y1="340.40" x2="38.30" y2="340.40" stroke="#666" stroke-width="0.8"/>
<text x="30.90" y="343.50" font-size="8.8" text-anchor="end" fill="#222" stroke="#222" stroke-width="0.22" textLength="10.80" lengthAdjust="spacingAndGlyphs">1.0</text>
<line x1="41.10" y1="405.40" x2="41.10" y2="403.20" stroke="#666" stroke-width="0.8"/>
<text x="35.10" y="420.30" font-size="9.2" text-anchor="start" fill="#222" stroke="#222" stroke-width="0.22" textLength="9.00" lengthAdjust="spacingAndGlyphs">10</text>
<text x="44.80" y="415.60" font-size="6.4" text-anchor="start" fill="#222" stroke="#222" stroke-width="0.22" textLength="3.00" lengthAdjust="spacingAndGlyphs">2</text>
<line x1="66.12" y1="405.40" x2="66.12" y2="403.20" stroke="#666" stroke-width="0.8"/>
<text x="60.12" y="420.30" font-size="9.2" text-anchor="start" fill="#222" stroke="#222" stroke-width="0.22" textLength="9.00" lengthAdjust="spacingAndGlyphs">10</text>
<text x="69.82" y="415.60" font-size="6.4" text-anchor="start" fill="#222" stroke="#222" stroke-width="0.22" textLength="3.00" lengthAdjust="spacingAndGlyphs">3</text>
<line x1="91.14" y1="405.40" x2="91.14" y2="403.20" stroke="#666" stroke-width="0.8"/>
<text x="85.14" y="420.30" font-size="9.2" text-anchor="start" fill="#222" stroke="#222" stroke-width="0.22" textLength="9.00" lengthAdjust="spacingAndGlyphs">10</text>
<text x="94.84" y="415.60" font-size="6.4" text-anchor="start" fill="#222" stroke="#222" stroke-width="0.22" textLength="3.00" lengthAdjust="spacingAndGlyphs">4</text>
<line x1="116.16" y1="405.40" x2="116.16" y2="403.20" stroke="#666" stroke-width="0.8"/>
<text x="110.16" y="420.30" font-size="9.2" text-anchor="start" fill="#222" stroke="#222" stroke-width="0.22" textLength="9.00" lengthAdjust="spacingAndGlyphs">10</text>
<text x="119.86" y="415.60" font-size="6.4" text-anchor="start" fill="#222" stroke="#222" stroke-width="0.22" textLength="3.00" lengthAdjust="spacingAndGlyphs">5</text>
<line x1="141.18" y1="405.40" x2="141.18" y2="403.20" stroke="#666" stroke-width="0.8"/>
<text x="135.18" y="420.30" font-size="9.2" text-anchor="start" fill="#222" stroke="#222" stroke-width="0.22" textLength="9.00" lengthAdjust="spacingAndGlyphs">10</text>
<text x="144.88" y="415.60" font-size="6.4" text-anchor="start" fill="#222" stroke="#222" stroke-width="0.22" textLength="3.00" lengthAdjust="spacingAndGlyphs">6</text>
<line x1="166.20" y1="405.40" x2="166.20" y2="403.20" stroke="#666" stroke-width="0.8"/>
<text x="160.20" y="420.30" font-size="9.2" text-anchor="start" fill="#222" stroke="#222" stroke-width="0.22" textLength="9.00" lengthAdjust="spacingAndGlyphs">10</text>
<text x="169.90" y="415.60" font-size="6.4" text-anchor="start" fill="#222" stroke="#222" stroke-width="0.22" textLength="3.00" lengthAdjust="spacingAndGlyphs">7</text>
<line x1="191.22" y1="405.40" x2="191.22" y2="403.20" stroke="#666" stroke-width="0.8"/>
<text x="185.22" y="420.30" font-size="9.2" text-anchor="start" fill="#222" stroke="#222" stroke-width="0.22" textLength="9.00" lengthAdjust="spacingAndGlyphs">10</text>
<text x="194.92" y="415.60" font-size="6.4" text-anchor="start" fill="#222" stroke="#222" stroke-width="0.22" textLength="3.00" lengthAdjust="spacingAndGlyphs">8</text>
<line x1="216.24" y1="405.40" x2="216.24" y2="403.20" stroke="#666" stroke-width="0.8"/>
<text x="210.24" y="420.30" font-size="9.2" text-anchor="start" fill="#222" stroke="#222" stroke-width="0.22" textLength="9.00" lengthAdjust="spacingAndGlyphs">10</text>
<text x="219.94" y="415.60" font-size="6.4" text-anchor="start" fill="#222" stroke="#222" stroke-width="0.22" textLength="3.00" lengthAdjust="spacingAndGlyphs">9</text>
<line x1="241.26" y1="405.40" x2="241.26" y2="403.20" stroke="#666" stroke-width="0.8"/>
<text x="235.26" y="420.30" font-size="9.2" text-anchor="start" fill="#222" stroke="#222" stroke-width="0.22" textLength="9.00" lengthAdjust="spacingAndGlyphs">10</text>
<text x="244.96" y="415.60" font-size="6.4" text-anchor="start" fill="#222" stroke="#222" stroke-width="0.22" textLength="6.00" lengthAdjust="spacingAndGlyphs">10</text>
<text x="149.60" y="435.40" font-size="9.9" text-anchor="middle" fill="#222" stroke="#222" stroke-width="0.1" textLength="23.10" lengthAdjust="spacingAndGlyphs">Time</text>
<text x="9.00" y="371.80" font-size="9.6" text-anchor="middle" fill="#222" stroke="#222" stroke-width="0.22" textLength="48.80" lengthAdjust="spacingAndGlyphs" transform="rotate(-90 9.00 371.80)">Frequency</text>
<path d="M40.70 369.70 52.65 368.43 58.90 367.48 61.40 367.20 70.21 366.68 84.04 366.22 202.86 366.20 207.72 366.35 211.30 366.60 212.55 366.74 214.80 367.20 217.30 367.95 219.06 368.61 220.57 369.44 222.59 370.88 224.64 372.62 226.19 374.29 227.48 376.07 228.50 377.84 229.25 379.57 230.00 381.65 231.00 384.85 231.78 387.68 233.42 395.90 234.48 400.58 234.74 401.42 235.00 401.80 235.75 402.02 236.50 402.10 259.00 402.10" fill="none" stroke="#fa8c1e" stroke-width="1.3" stroke-linejoin="round"/>
<path d="M40.70 372.80 52.65 374.07 58.90 375.02 61.40 375.30 70.21 375.82 84.04 376.28 202.86 376.30 207.72 376.15 211.30 375.90 212.55 375.76 214.80 375.30 217.30 374.55 219.06 373.89 220.57 373.06 222.59 371.62 224.64 369.88 226.19 368.21 227.48 366.43 228.50 364.66 229.25 362.93 230.00 360.85 231.00 357.65 231.78 354.82 233.42 346.60 234.48 341.92 234.74 341.08 235.00 340.70 235.75 340.48 236.50 340.40 259.00 340.40" fill="none" stroke="#2424f5" stroke-width="1.3" stroke-dasharray="2.5 2.4"/>
<line x1="234.8" y1="337.4" x2="234.8" y2="405.4" stroke="#c8c8c8" stroke-width="0.9"/>
<text x="199.90" y="355.00" font-size="10.4" fill="#222" stroke="#222" stroke-width="0.06" textLength="28.60" lengthAdjust="spacingAndGlyphs"><tspan font-style="italic">b</tspan> = 3 t</text>
<text x="351.30" y="334.70" font-size="14.2" text-anchor="start" fill="#000" stroke="#000" stroke-width="0.55" font-weight="bold">h</text>
<line x1="388.10" y1="339.40" x2="670.40" y2="339.40" stroke="#888" stroke-width="1.15" stroke-linecap="square"/>
<line x1="670.40" y1="339.40" x2="670.40" y2="404.50" stroke="#888" stroke-width="1.15" stroke-linecap="square"/>
<line x1="388.10" y1="404.50" x2="670.40" y2="404.50" stroke="#777" stroke-width="1.15" stroke-linecap="square"/>
<line x1="388.10" y1="339.40" x2="388.10" y2="404.50" stroke="#b5b5b5" stroke-width="1.15" stroke-linecap="square"/>
<line x1="413.33" y1="404.50" x2="413.33" y2="402.30" stroke="#666" stroke-width="0.8"/>
<text x="407.53" y="420.30" font-size="9.2" text-anchor="start" fill="#222" stroke="#222" stroke-width="0.22" textLength="9.00" lengthAdjust="spacingAndGlyphs">10</text>
<text x="417.23" y="415.60" font-size="6.4" text-anchor="start" fill="#222" stroke="#222" stroke-width="0.22" textLength="3.00" lengthAdjust="spacingAndGlyphs">1</text>
<line x1="439.06" y1="404.50" x2="439.06" y2="402.30" stroke="#666" stroke-width="0.8"/>
<text x="433.26" y="420.30" font-size="9.2" text-anchor="start" fill="#222" stroke="#222" stroke-width="0.22" textLength="9.00" lengthAdjust="spacingAndGlyphs">10</text>
<text x="442.96" y="415.60" font-size="6.4" text-anchor="start" fill="#222" stroke="#222" stroke-width="0.22" textLength="3.00" lengthAdjust="spacingAndGlyphs">2</text>
<line x1="464.79" y1="404.50" x2="464.79" y2="402.30" stroke="#666" stroke-width="0.8"/>
<text x="458.99" y="420.30" font-size="9.2" text-anchor="start" fill="#222" stroke="#222" stroke-width="0.22" textLength="9.00" lengthAdjust="spacingAndGlyphs">10</text>
<text x="468.69" y="415.60" font-size="6.4" text-anchor="start" fill="#222" stroke="#222" stroke-width="0.22" textLength="3.00" lengthAdjust="spacingAndGlyphs">3</text>
<line x1="490.52" y1="404.50" x2="490.52" y2="402.30" stroke="#666" stroke-width="0.8"/>
<text x="484.72" y="420.30" font-size="9.2" text-anchor="start" fill="#222" stroke="#222" stroke-width="0.22" textLength="9.00" lengthAdjust="spacingAndGlyphs">10</text>
<text x="494.42" y="415.60" font-size="6.4" text-anchor="start" fill="#222" stroke="#222" stroke-width="0.22" textLength="3.00" lengthAdjust="spacingAndGlyphs">4</text>
<line x1="516.25" y1="404.50" x2="516.25" y2="402.30" stroke="#666" stroke-width="0.8"/>
<text x="510.45" y="420.30" font-size="9.2" text-anchor="start" fill="#222" stroke="#222" stroke-width="0.22" textLength="9.00" lengthAdjust="spacingAndGlyphs">10</text>
<text x="520.15" y="415.60" font-size="6.4" text-anchor="start" fill="#222" stroke="#222" stroke-width="0.22" textLength="3.00" lengthAdjust="spacingAndGlyphs">5</text>
<line x1="541.98" y1="404.50" x2="541.98" y2="402.30" stroke="#666" stroke-width="0.8"/>
<text x="536.18" y="420.30" font-size="9.2" text-anchor="start" fill="#222" stroke="#222" stroke-width="0.22" textLength="9.00" lengthAdjust="spacingAndGlyphs">10</text>
<text x="545.88" y="415.60" font-size="6.4" text-anchor="start" fill="#222" stroke="#222" stroke-width="0.22" textLength="3.00" lengthAdjust="spacingAndGlyphs">6</text>
<line x1="567.71" y1="404.50" x2="567.71" y2="402.30" stroke="#666" stroke-width="0.8"/>
<text x="561.91" y="420.30" font-size="9.2" text-anchor="start" fill="#222" stroke="#222" stroke-width="0.22" textLength="9.00" lengthAdjust="spacingAndGlyphs">10</text>
<text x="571.61" y="415.60" font-size="6.4" text-anchor="start" fill="#222" stroke="#222" stroke-width="0.22" textLength="3.00" lengthAdjust="spacingAndGlyphs">7</text>
<line x1="593.44" y1="404.50" x2="593.44" y2="402.30" stroke="#666" stroke-width="0.8"/>
<text x="587.64" y="420.30" font-size="9.2" text-anchor="start" fill="#222" stroke="#222" stroke-width="0.22" textLength="9.00" lengthAdjust="spacingAndGlyphs">10</text>
<text x="597.34" y="415.60" font-size="6.4" text-anchor="start" fill="#222" stroke="#222" stroke-width="0.22" textLength="3.00" lengthAdjust="spacingAndGlyphs">8</text>
<line x1="619.17" y1="404.50" x2="619.17" y2="402.30" stroke="#666" stroke-width="0.8"/>
<text x="613.37" y="420.30" font-size="9.2" text-anchor="start" fill="#222" stroke="#222" stroke-width="0.22" textLength="9.00" lengthAdjust="spacingAndGlyphs">10</text>
<text x="623.07" y="415.60" font-size="6.4" text-anchor="start" fill="#222" stroke="#222" stroke-width="0.22" textLength="3.00" lengthAdjust="spacingAndGlyphs">9</text>
<line x1="644.90" y1="404.50" x2="644.90" y2="402.30" stroke="#666" stroke-width="0.8"/>
<text x="639.10" y="420.30" font-size="9.2" text-anchor="start" fill="#222" stroke="#222" stroke-width="0.22" textLength="9.00" lengthAdjust="spacingAndGlyphs">10</text>
<text x="648.80" y="415.60" font-size="6.4" text-anchor="start" fill="#222" stroke="#222" stroke-width="0.22" textLength="6.00" lengthAdjust="spacingAndGlyphs">10</text>
<text x="380.00" y="419.80" font-size="8" text-anchor="start" fill="#222" stroke="#222" stroke-width="0.22"></text>
<text x="381.80" y="419.80" font-size="9.2" text-anchor="start" fill="#222" stroke="#222" stroke-width="0.22" textLength="9.00" lengthAdjust="spacingAndGlyphs">10</text>
<text x="391.50" y="414.90" font-size="6.4" text-anchor="start" fill="#222" stroke="#222" stroke-width="0.22" textLength="3.00" lengthAdjust="spacingAndGlyphs">0</text>
<text x="529.60" y="434.90" font-size="9.9" text-anchor="middle" fill="#222" stroke="#222" stroke-width="0.1" textLength="122.20" lengthAdjust="spacingAndGlyphs">Time to reach equilibrium</text>
<text x="360.00" y="372.00" font-size="9.6" text-anchor="middle" fill="#222" stroke="#222" stroke-width="0.22" textLength="51.50" lengthAdjust="spacingAndGlyphs" transform="rotate(-90 360.00 372.00)">Body mass</text>
<line x1="388.1" y1="348.0" x2="389.90000000000003" y2="348.0" stroke="#888" stroke-width="0.8"/>
<text x="370.00" y="351.20" font-size="9.2" text-anchor="start" fill="#222" stroke="#222" stroke-width="0.22" textLength="9.00" lengthAdjust="spacingAndGlyphs">10</text>
<text x="379.70" y="346.30" font-size="6.4" text-anchor="start" fill="#222" stroke="#222" stroke-width="0.22" textLength="3.00" lengthAdjust="spacingAndGlyphs">6</text>
<line x1="388.1" y1="366.1" x2="389.90000000000003" y2="366.1" stroke="#888" stroke-width="0.8"/>
<text x="370.00" y="369.30" font-size="9.2" text-anchor="start" fill="#222" stroke="#222" stroke-width="0.22" textLength="9.00" lengthAdjust="spacingAndGlyphs">10</text>
<text x="379.70" y="364.40" font-size="6.4" text-anchor="start" fill="#222" stroke="#222" stroke-width="0.22" textLength="3.00" lengthAdjust="spacingAndGlyphs">4</text>
<line x1="388.1" y1="384.3" x2="389.90000000000003" y2="384.3" stroke="#888" stroke-width="0.8"/>
<text x="370.00" y="387.50" font-size="9.2" text-anchor="start" fill="#222" stroke="#222" stroke-width="0.22" textLength="9.00" lengthAdjust="spacingAndGlyphs">10</text>
<text x="379.70" y="382.60" font-size="6.4" text-anchor="start" fill="#222" stroke="#222" stroke-width="0.22" textLength="3.00" lengthAdjust="spacingAndGlyphs">2</text>
<line x1="388.1" y1="402.6" x2="389.90000000000003" y2="402.6" stroke="#888" stroke-width="0.8"/>
<text x="370.00" y="405.80" font-size="9.2" text-anchor="start" fill="#222" stroke="#222" stroke-width="0.22" textLength="9.00" lengthAdjust="spacingAndGlyphs">10</text>
<text x="379.70" y="400.90" font-size="6.4" text-anchor="start" fill="#222" stroke="#222" stroke-width="0.22" textLength="3.00" lengthAdjust="spacingAndGlyphs">0</text>
<circle cx="413.2" cy="376.8" r="1.3" fill="#000"/>
<circle cx="415" cy="378.6" r="1.3" fill="#000"/>
<circle cx="418" cy="374.7" r="1.3" fill="#000"/>
<circle cx="423.9" cy="372.6" r="1.3" fill="#000"/>
<circle cx="433.3" cy="368.3" r="1.3" fill="#000"/>
<circle cx="443.7" cy="366.1" r="1.3" fill="#000"/>
<circle cx="452.2" cy="363.8" r="1.3" fill="#000"/>
<circle cx="483.3" cy="359.3" r="1.3" fill="#000"/>
<circle cx="504.9" cy="357.1" r="1.3" fill="#000"/>
<circle cx="435.4" cy="381.5" r="1.3" fill="#000"/>
<circle cx="467.8" cy="382.6" r="1.3" fill="#000"/>
<circle cx="460.3" cy="401.2" r="1.3" fill="#000"/>
<circle cx="465.9" cy="398.9" r="1.3" fill="#000"/>
<circle cx="476.2" cy="394.7" r="1.3" fill="#000"/>
<circle cx="482.5" cy="392.4" r="1.3" fill="#000"/>
<circle cx="487.5" cy="390.2" r="1.3" fill="#000"/>
<circle cx="494" cy="383.4" r="1.3" fill="#000"/>
<circle cx="495" cy="385.6" r="1.3" fill="#000"/>
<circle cx="528.6" cy="354.7" r="1.3" fill="#000"/>
<circle cx="572.9" cy="350.8" r="1.3" fill="#000"/>
<circle cx="592.2" cy="348.2" r="1.3" fill="#000"/>
<circle cx="614.7" cy="346.1" r="1.3" fill="#000"/>
<circle cx="421.9" cy="379.0" r="2.6" fill="none" stroke="#ff8a80" stroke-width="0.6"/>
<circle cx="429.0" cy="370.1" r="2.6" fill="none" stroke="#ff8a80" stroke-width="0.6"/>
<circle cx="467.8" cy="361.5" r="2.6" fill="none" stroke="#ff8a80" stroke-width="0.6"/>
<circle cx="471.2" cy="397.0" r="2.6" fill="none" stroke="#ff8a80" stroke-width="0.6"/>
<circle cx="495.0" cy="388.4" r="2.6" fill="none" stroke="#ff8a80" stroke-width="0.6"/>
<circle cx="553.7" cy="352.4" r="2.6" fill="none" stroke="#ff8a80" stroke-width="0.6"/>
<circle cx="639.1" cy="343.2" r="2.6" fill="none" stroke="#ff8a80" stroke-width="0.6"/>
<text x="421.60" y="388.60" font-size="10.8" text-anchor="middle" fill="#ff3b2f" stroke="#ff3b2f" stroke-width="0.15">c</text>
<text x="428.00" y="366.40" font-size="10.8" text-anchor="middle" fill="#ff3b2f" stroke="#ff3b2f" stroke-width="0.15">d</text>
<text x="467.70" y="357.40" font-size="10.8" text-anchor="middle" fill="#ff3b2f" stroke="#ff3b2f" stroke-width="0.15">e</text>
<text x="470.00" y="393.60" font-size="10.8" text-anchor="middle" fill="#ff3b2f" stroke="#ff3b2f" stroke-width="0.15">a</text>
<text x="502.00" y="391.40" font-size="10.8" text-anchor="middle" fill="#ff3b2f" stroke="#ff3b2f" stroke-width="0.15">b</text>
<text x="553.00" y="349.20" font-size="10.8" text-anchor="middle" fill="#ff3b2f" stroke="#ff3b2f" stroke-width="0.15">f</text>
<text x="639.40" y="351.60" font-size="10.8" text-anchor="middle" fill="#ff3b2f" stroke="#ff3b2f" stroke-width="0.15">g</text>
<rect x="269.2" y="245.1" width="61.3" height="61.3" fill="none" stroke="#f5f5f5" stroke-width="0.8"/>
<rect x="622.4" y="252.4" width="70" height="61.7" fill="none" stroke="#f5f5f5" stroke-width="0.8"/>
<text x="300.20" y="29.60" font-size="9.8" text-anchor="middle" fill="#222" stroke="#222" stroke-width="0.1" textLength="49.60" lengthAdjust="spacingAndGlyphs">Small bats</text>
<text x="649.80" y="31.50" font-size="9.8" text-anchor="middle" fill="#222" stroke="#222" stroke-width="0.1" textLength="66.40" lengthAdjust="spacingAndGlyphs">Small rodents</text>
<text x="300.30" y="132.00" font-size="9.8" text-anchor="middle" fill="#222" stroke="#222" stroke-width="0.1" textLength="66.70" lengthAdjust="spacingAndGlyphs">Large rodents</text>
<text x="654.60" y="135.30" font-size="9.8" text-anchor="middle" fill="#222" stroke="#222" stroke-width="0.1" textLength="51.60" lengthAdjust="spacingAndGlyphs">Carnivores</text>
<text x="298.60" y="233.40" font-size="9.8" text-anchor="middle" fill="#222" stroke="#222" stroke-width="0.1" textLength="26.70" lengthAdjust="spacingAndGlyphs">Small</text>
<text x="300.50" y="246.30" font-size="9.8" text-anchor="middle" fill="#222" stroke="#222" stroke-width="0.1" textLength="47.50" lengthAdjust="spacingAndGlyphs">ungulates</text>
<text x="652.60" y="244.10" font-size="9.8" text-anchor="middle" fill="#222" stroke="#222" stroke-width="0.1" textLength="26.40" lengthAdjust="spacingAndGlyphs">Large</text>
<text x="653.70" y="256.00" font-size="9.8" text-anchor="middle" fill="#222" stroke="#222" stroke-width="0.1" textLength="47.20" lengthAdjust="spacingAndGlyphs">ungulates</text>
<text x="304.30" y="354.40" font-size="9.8" text-anchor="middle" fill="#222" stroke="#222" stroke-width="0.1" textLength="47.10" lengthAdjust="spacingAndGlyphs">Elephants</text>
<path d="M277.55 56.58 C277.37 56.25 279.08 54.34 279.52 53.82 C279.95 53.31 281.25 51.92 281.88 51.46 C282.51 51.00 285.08 49.58 285.82 49.25 C286.57 48.92 288.86 48.01 289.37 48.15 C289.88 48.29 290.59 50.18 290.95 50.67 C291.30 51.16 292.50 52.68 292.92 53.04 C293.34 53.39 294.76 54.08 295.13 54.22 C295.49 54.36 296.40 54.73 296.55 54.46 C296.69 54.18 296.51 52.00 296.55 51.46 C296.58 50.92 296.75 49.21 296.86 49.09 C296.97 48.98 297.41 50.10 297.65 50.28 C297.89 50.46 298.83 50.87 299.23 50.91 C299.62 50.95 301.18 50.84 301.59 50.67 C302.00 50.51 303.12 49.17 303.33 49.25 C303.53 49.33 303.59 50.94 303.64 51.46 C303.69 51.98 303.45 54.30 303.80 54.46 C304.15 54.61 306.56 53.42 307.11 53.04 C307.66 52.66 308.96 51.16 309.32 50.67 C309.67 50.18 310.17 48.31 310.66 48.15 C311.15 47.99 313.46 48.76 314.20 49.09 C314.95 49.43 317.45 50.92 318.15 51.46 C318.84 52.00 320.65 53.92 321.14 54.46 C321.63 54.99 323.18 56.57 323.03 56.82 C322.89 57.07 320.28 56.87 319.72 56.98 C319.17 57.09 317.91 57.59 317.52 57.92 C317.12 58.26 316.19 60.07 315.78 60.29 C315.37 60.51 313.89 60.05 313.42 60.13 C312.94 60.21 311.49 60.83 311.05 61.08 C310.62 61.33 309.47 62.50 309.08 62.65 C308.69 62.81 307.53 62.58 307.11 62.65 C306.69 62.73 305.34 63.21 304.90 63.44 C304.47 63.68 303.22 64.63 302.77 65.02 C302.32 65.41 300.88 67.38 300.41 67.38 C299.94 67.38 298.54 65.41 298.04 65.02 C297.55 64.63 295.96 63.68 295.44 63.44 C294.93 63.21 293.37 62.91 292.92 62.65 C292.47 62.40 291.38 61.17 290.95 60.92 C290.52 60.67 289.14 60.17 288.58 60.13 C288.03 60.09 285.90 60.72 285.43 60.53 C284.96 60.33 284.27 58.50 283.85 58.16 C283.44 57.82 281.88 57.29 281.25 57.14 C280.62 56.98 277.72 56.92 277.55 56.58Z" fill="#000"/>
<line x1="288.8" y1="50.6" x2="286.2" y2="57.9" stroke="#fff" stroke-width="0.45" stroke-opacity="0.55"/>
<line x1="291" y1="52" x2="292.1" y2="60.4" stroke="#fff" stroke-width="0.45" stroke-opacity="0.55"/>
<line x1="311.8" y1="50.6" x2="314.3" y2="56.4" stroke="#fff" stroke-width="0.45" stroke-opacity="0.55"/>
<line x1="310" y1="52.8" x2="308.8" y2="59.7" stroke="#fff" stroke-width="0.45" stroke-opacity="0.55"/>
<circle cx="298.83" cy="53.82" r="0.35" fill="#fff"/>
<circle cx="301.20" cy="53.82" r="0.35" fill="#fff"/>
<path d="M631.69 63.23 C631.28 62.40 631.66 58.84 631.91 57.37 C632.15 55.91 632.86 53.34 633.52 52.25 C634.17 51.16 635.84 49.80 636.81 49.17 C637.79 48.55 639.71 47.82 640.84 47.56 C641.96 47.31 644.06 47.18 645.23 47.27 C646.40 47.36 648.60 47.95 649.62 48.22 C650.65 48.50 652.38 49.35 652.92 49.32 C653.45 49.29 653.31 48.28 653.65 48.00 C653.99 47.73 654.94 47.34 655.48 47.27 C656.02 47.20 657.24 47.27 657.67 47.49 C658.11 47.71 658.29 48.53 658.77 48.95 C659.26 49.37 660.55 50.15 661.34 50.64 C662.12 51.13 663.90 52.06 664.63 52.61 C665.36 53.17 666.60 54.29 666.83 54.81 C667.05 55.33 666.75 56.10 666.31 56.49 C665.87 56.89 664.24 57.38 663.53 57.74 C662.82 58.10 661.65 58.74 660.97 59.20 C660.29 59.66 658.90 60.72 658.41 61.18 C657.92 61.64 657.11 62.35 657.31 62.64 C657.50 62.94 659.58 63.15 659.87 63.38 C660.16 63.60 659.99 64.20 659.51 64.33 C659.02 64.45 656.94 64.43 656.21 64.33 C655.48 64.23 654.60 63.74 654.01 63.60 C653.43 63.45 652.60 63.18 651.82 63.23 C651.04 63.28 648.94 63.69 648.16 63.96 C647.38 64.24 646.65 65.08 645.96 65.28 C645.28 65.47 643.77 65.46 643.03 65.43 C642.30 65.40 641.06 65.26 640.47 65.06 C639.89 64.86 639.37 64.16 638.64 63.96 C637.91 63.77 635.91 63.69 634.98 63.60 C634.05 63.50 632.10 64.06 631.69 63.23Z" fill="#000"/>
<path d="M631.91 61.91 C631.63 62.16 630.61 62.77 630.22 63.38 C629.83 63.99 629.48 64.89 629.56 65.57 C629.65 66.26 630.08 66.94 630.73 67.48 C631.39 68.01 632.20 68.48 633.52 68.79 C634.83 69.11 636.57 69.28 638.64 69.38 C640.72 69.48 643.64 69.32 645.96 69.38 C648.28 69.44 651.03 69.60 652.55 69.75 C654.08 69.89 654.32 70.05 655.11 70.26 C655.91 70.47 656.94 70.87 657.31 70.99" fill="none" stroke="#000" stroke-width="1.3" stroke-linecap="round"/>
<circle cx="660.97" cy="53.35" r="0.55" fill="#fff"/>
<path d="M282.39 149.15 C282.42 148.87 283.85 146.76 284.40 146.22 C284.96 145.69 286.60 144.83 287.15 144.57 C287.69 144.32 288.54 144.08 289.07 144.03 C289.60 143.97 291.05 144.02 291.72 144.12 C292.40 144.21 294.25 144.48 294.83 144.85 C295.42 145.22 296.42 146.60 296.76 147.32 C297.09 148.03 297.60 150.13 297.67 150.98 C297.75 151.83 297.49 154.00 297.40 154.64 C297.30 155.28 296.67 156.27 296.85 156.47 C297.03 156.67 298.38 156.51 298.95 156.38 C299.53 156.25 301.21 155.61 301.79 155.37 C302.36 155.14 303.41 154.68 303.89 154.36 C304.37 154.04 305.57 153.01 305.90 152.63 C306.24 152.24 306.58 151.54 306.73 151.07 C306.88 150.60 306.99 148.97 307.19 148.60 C307.38 148.23 308.09 147.89 308.38 147.87 C308.66 147.85 309.46 148.14 309.66 148.42 C309.85 148.69 309.64 149.89 310.02 150.25 C310.41 150.60 312.32 151.05 312.95 151.44 C313.58 151.82 314.99 153.06 315.42 153.54 C315.85 154.02 316.66 155.13 316.61 155.55 C316.56 155.98 315.49 156.91 314.96 157.20 C314.44 157.49 312.61 157.87 312.13 158.02 C311.65 158.17 310.94 158.24 310.85 158.48 C310.75 158.73 310.96 159.91 311.30 160.13 C311.64 160.34 313.28 160.17 313.77 160.31 C314.26 160.45 315.37 161.01 315.51 161.32 C315.65 161.63 315.26 162.79 314.96 162.96 C314.66 163.14 313.43 162.78 312.95 162.78 C312.47 162.78 311.38 162.79 310.85 162.96 C310.31 163.14 308.86 163.81 308.38 164.25 C307.89 164.68 307.02 166.10 306.73 166.72 C306.44 167.33 305.90 168.93 305.90 169.55 C305.90 170.17 306.34 171.64 306.73 172.02 C307.11 172.41 308.86 172.65 309.20 172.85 C309.54 173.04 309.89 173.50 309.66 173.67 C309.42 173.84 307.95 174.16 307.19 174.31 C306.42 174.46 304.32 174.87 303.07 174.95 C301.82 175.02 297.73 175.05 296.48 174.95 C295.23 174.85 293.32 174.47 292.36 174.13 C291.40 173.78 289.02 172.69 288.25 172.02 C287.48 171.35 286.16 169.37 285.78 168.36 C285.39 167.36 284.95 164.57 284.95 163.42 C284.95 162.27 285.49 159.54 285.78 158.48 C286.06 157.42 287.19 155.23 287.42 154.36 C287.66 153.50 287.89 151.70 287.79 151.07 C287.69 150.44 287.03 149.25 286.60 148.97 C286.17 148.68 284.62 148.58 284.13 148.60 C283.64 148.62 282.36 149.43 282.39 149.15Z" fill="#000"/>
<circle cx="312.58" cy="153.54" r="0.5" fill="#fff"/>
<path d="M295.66 158.48 C295.31 159.17 293.97 161.23 293.55 162.60 C293.14 163.97 293.19 165.62 293.19 166.72 C293.19 167.81 293.49 168.77 293.55 169.19" fill="none" stroke="#fff" stroke-width="0.35"/>
<path d="M300.60 163.42 C301.15 163.70 303.21 164.11 303.89 165.07 C304.58 166.03 304.72 167.68 304.72 169.19 C304.72 170.70 304.03 173.30 303.89 174.13" fill="none" stroke="#fff" stroke-width="0.3" stroke-opacity="0.7"/>
<path d="M628.12 167.83 C627.94 167.60 629.96 166.89 630.40 166.55 C630.85 166.20 631.53 165.37 631.96 164.90 C632.39 164.43 633.58 163.07 634.06 162.52 C634.54 161.96 635.60 160.74 636.08 160.14 C636.56 159.54 637.69 157.95 638.18 157.40 C638.67 156.84 639.62 155.97 640.29 155.38 C640.95 154.80 642.98 152.87 643.85 152.36 C644.73 151.86 646.90 151.32 647.79 151.08 C648.67 150.85 650.38 150.47 651.45 150.35 C652.51 150.23 655.66 150.08 656.94 150.08 C658.22 150.08 661.36 150.48 662.43 150.35 C663.49 150.22 665.50 149.57 666.09 148.98 C666.67 148.39 667.19 146.12 667.46 145.32 C667.73 144.52 668.05 142.33 668.37 142.12 C668.69 141.90 669.85 143.09 670.20 143.49 C670.56 143.88 671.02 145.50 671.39 145.50 C671.77 145.50 672.90 143.88 673.41 143.49 C673.91 143.09 675.37 141.90 675.69 142.12 C676.01 142.33 676.15 144.73 676.15 145.32 C676.15 145.91 675.59 146.62 675.69 147.15 C675.80 147.68 676.69 149.31 677.06 149.89 C677.44 150.48 678.60 151.78 678.89 152.18 C679.19 152.59 679.73 153.10 679.63 153.37 C679.52 153.64 678.44 154.32 677.98 154.47 C677.52 154.62 676.23 154.54 675.69 154.65 C675.16 154.76 673.78 154.98 673.41 155.38 C673.03 155.79 672.81 157.49 672.49 158.13 C672.17 158.77 671.07 160.39 670.66 160.87 C670.25 161.35 669.23 161.39 669.01 162.25 C668.80 163.10 668.75 167.16 668.83 168.19 C668.92 169.23 669.51 170.61 669.75 171.12 C669.98 171.63 670.95 172.37 670.84 172.58 C670.74 172.80 669.28 173.04 668.83 172.95 C668.38 172.86 667.27 172.51 667.00 171.85 C666.73 171.19 666.65 168.24 666.54 167.28 C666.44 166.32 666.35 163.99 666.09 163.62 C665.82 163.24 664.58 163.43 664.26 164.08 C663.94 164.72 663.43 168.20 663.34 169.11 C663.26 170.01 663.36 171.37 663.52 171.85 C663.68 172.33 664.84 173.03 664.71 173.22 C664.59 173.42 662.85 173.66 662.43 173.50 C662.00 173.34 661.27 172.58 661.05 171.85 C660.84 171.13 660.70 168.34 660.60 167.28 C660.49 166.21 660.57 163.29 660.14 162.70 C659.71 162.12 657.72 162.31 656.94 162.25 C656.16 162.18 654.12 161.78 653.46 162.15 C652.80 162.53 651.57 164.66 651.26 165.45 C650.95 166.24 650.70 168.22 650.81 168.92 C650.91 169.63 651.74 171.04 652.18 171.49 C652.62 171.93 654.37 172.54 654.56 172.77 C654.75 172.99 654.23 173.57 653.83 173.41 C653.42 173.25 651.70 172.06 651.08 171.39 C650.46 170.73 648.84 168.54 648.52 167.73 C648.20 166.93 648.64 164.96 648.34 164.53 C648.04 164.11 646.56 163.97 645.96 164.08 C645.36 164.18 643.59 164.88 643.21 165.45 C642.84 166.01 642.76 168.18 642.76 168.92 C642.76 169.67 643.01 171.39 643.21 171.85 C643.42 172.31 644.45 172.67 644.49 172.86 C644.54 173.05 643.96 173.53 643.58 173.50 C643.19 173.47 641.58 173.03 641.20 172.58 C640.82 172.14 640.35 170.44 640.29 169.66 C640.22 168.88 640.79 166.26 640.65 165.90 C640.51 165.55 639.69 166.41 639.10 166.64 C638.50 166.86 636.36 167.61 635.53 167.83 C634.70 168.04 632.82 168.47 631.96 168.47 C631.10 168.47 628.30 168.05 628.12 167.83Z" fill="#000"/>
<circle cx="674.14" cy="150.35" r="0.45" fill="#fff"/>
<path d="M310.21 261.84 C310.71 262.02 312.65 263.23 313.29 263.63 C313.93 264.04 315.27 264.94 315.72 265.30 C316.17 265.66 317.07 266.41 317.13 266.71 C317.19 267.01 316.68 267.79 316.24 267.86 C315.79 267.94 313.80 267.32 313.29 267.35 C312.78 267.38 312.07 267.53 311.88 268.12 C311.68 268.70 311.68 271.40 311.62 272.35 C311.56 273.29 311.55 275.32 311.37 276.19 C311.19 277.06 310.50 279.06 310.09 279.78 C309.67 280.50 308.12 281.79 307.78 282.34 C307.43 282.89 307.26 283.59 307.14 284.52 C307.02 285.45 306.83 289.02 306.75 290.29 C306.68 291.56 306.47 294.48 306.50 295.41 C306.53 296.34 306.89 297.80 307.01 298.23 C307.13 298.66 307.67 298.99 307.52 299.13 C307.37 299.26 306.03 299.55 305.73 299.38 C305.43 299.22 305.11 298.48 304.96 297.72 C304.81 296.96 304.57 294.09 304.45 292.85 C304.33 291.61 304.07 287.83 303.93 287.08 C303.80 286.34 303.40 285.84 303.29 286.44 C303.19 287.04 303.08 290.94 303.04 292.21 C302.99 293.48 302.86 296.54 302.91 297.33 C302.95 298.13 303.57 298.76 303.42 299.00 C303.27 299.24 301.88 299.62 301.63 299.38 C301.37 299.14 301.30 298.01 301.24 296.95 C301.18 295.89 301.13 291.78 301.12 290.29 C301.10 288.79 301.32 285.06 301.12 284.14 C300.91 283.21 300.01 282.57 299.32 282.34 C298.63 282.12 296.22 282.24 295.22 282.21 C294.22 282.18 291.48 282.01 290.74 282.09 C289.99 282.16 289.22 282.35 288.81 282.85 C288.41 283.36 287.31 285.43 287.28 286.44 C287.25 287.46 288.26 290.45 288.56 291.57 C288.86 292.69 289.51 295.22 289.84 296.05 C290.17 296.89 291.42 298.35 291.38 298.74 C291.33 299.13 289.87 299.53 289.45 299.38 C289.04 299.23 288.16 298.30 287.79 297.46 C287.42 296.62 286.55 293.31 286.25 292.21 C285.95 291.10 285.50 288.65 285.23 287.98 C284.96 287.31 284.20 286.10 283.94 286.44 C283.69 286.79 283.20 289.85 283.05 290.93 C282.90 292.00 282.66 294.74 282.66 295.67 C282.66 296.59 283.23 298.44 283.05 298.87 C282.87 299.30 281.38 299.79 281.13 299.38 C280.87 298.98 280.90 296.59 280.87 295.41 C280.84 294.23 280.82 290.49 280.87 289.26 C280.91 288.04 281.22 285.80 281.25 284.90 C281.28 284.01 281.19 282.29 281.13 281.57 C281.07 280.85 280.73 279.41 280.74 278.75 C280.76 278.10 281.06 276.56 281.25 275.93 C281.45 275.31 282.05 273.82 282.41 273.37 C282.77 272.92 283.73 272.34 284.33 272.09 C284.93 271.84 286.64 271.31 287.53 271.19 C288.43 271.07 290.97 271.01 292.02 271.07 C293.06 271.12 295.38 271.66 296.50 271.71 C297.62 271.75 300.64 271.52 301.63 271.45 C302.61 271.37 304.33 271.27 304.96 271.07 C305.59 270.86 306.67 270.25 307.01 269.66 C307.35 269.06 307.80 266.64 307.91 265.94 C308.01 265.24 308.04 263.98 307.91 263.63 C307.77 263.29 307.11 263.31 306.75 262.99 C306.39 262.68 304.77 261.11 304.83 260.94 C304.89 260.78 306.77 261.45 307.27 261.58 C307.76 261.72 308.72 262.07 309.06 262.10 C309.40 262.13 309.72 261.66 310.21 261.84Z" fill="#000"/>
<path d="M309.96 261.84 C309.51 261.45 308.31 260.26 307.27 259.53 C306.22 258.81 304.77 258.12 303.68 257.48 C302.59 256.84 301.56 256.48 300.73 255.69 C299.90 254.90 299.02 253.23 298.68 252.74" fill="none" stroke="#000" stroke-width="1.35" stroke-linecap="round"/>
<path d="M311.75 262.10 C311.41 261.56 310.64 259.81 309.70 258.89 C308.76 257.97 307.20 257.27 306.11 256.59 C305.02 255.90 303.81 255.43 303.17 254.79 C302.52 254.15 302.42 253.08 302.27 252.74" fill="none" stroke="#000" stroke-width="1.35" stroke-linecap="round"/>
<circle cx="312.39" cy="264.66" r="0.45" fill="#fff"/>
<path d="M629.85 285.08 C629.79 285.17 630.16 282.02 630.33 281.24 C630.50 280.45 630.90 278.97 631.29 278.35 C631.68 277.73 633.08 276.51 633.69 275.95 C634.31 275.39 635.79 273.99 636.58 273.54 C637.37 273.09 639.42 272.44 640.43 272.10 C641.44 271.76 644.23 270.99 645.24 270.66 C646.25 270.32 648.19 269.53 649.08 269.21 C649.98 268.90 652.03 268.15 652.93 267.96 C653.83 267.77 655.88 267.58 656.78 267.58 C657.68 267.58 659.73 267.72 660.63 267.96 C661.52 268.21 663.69 269.27 664.47 269.69 C665.26 270.12 666.74 271.28 667.36 271.62 C667.98 271.95 669.37 272.58 669.76 272.58 C670.16 272.58 670.47 271.60 670.72 271.62 C670.98 271.64 671.75 272.32 671.97 272.77 C672.20 273.22 672.46 274.70 672.65 275.47 C672.84 276.23 673.27 278.53 673.61 279.31 C673.95 280.10 675.03 281.52 675.53 282.20 C676.04 282.87 677.43 284.47 677.94 285.08 C678.44 285.70 679.64 286.93 679.86 287.49 C680.09 288.05 680.09 289.52 679.86 289.89 C679.64 290.26 678.50 290.61 677.94 290.66 C677.38 290.72 675.73 290.46 675.05 290.37 C674.38 290.28 673.06 290.00 672.17 289.89 C671.27 289.78 668.26 289.41 667.36 289.41 C666.46 289.41 664.98 289.72 664.47 289.89 C663.97 290.06 663.23 290.41 663.03 290.85 C662.83 291.30 662.63 292.98 662.74 293.74 C662.85 294.50 663.68 296.72 663.99 297.39 C664.31 298.07 665.55 299.24 665.43 299.51 C665.32 299.78 663.59 299.93 663.03 299.70 C662.47 299.48 661.07 298.28 660.63 297.59 C660.18 296.89 659.46 294.41 659.18 293.74 C658.90 293.07 658.50 292.10 658.22 291.82 C657.94 291.54 657.06 291.22 656.78 291.34 C656.50 291.45 656.04 292.16 655.82 292.78 C655.59 293.40 654.91 295.90 654.85 296.63 C654.80 297.35 655.56 298.69 655.34 299.03 C655.11 299.37 653.35 299.68 652.93 299.51 C652.52 299.34 651.94 298.26 651.78 297.59 C651.61 296.91 651.58 294.53 651.49 293.74 C651.40 292.95 651.51 291.30 651.01 290.85 C650.50 290.41 648.11 290.12 647.16 289.89 C646.21 289.67 643.45 288.81 642.83 288.93 C642.21 289.05 641.98 290.21 641.87 290.95 C641.76 291.69 641.71 294.47 641.87 295.28 C642.03 296.09 642.98 297.40 643.22 297.88 C643.45 298.35 644.15 299.15 643.89 299.32 C643.63 299.49 641.59 299.69 641.00 299.32 C640.42 298.95 639.24 297.02 638.89 296.14 C638.54 295.27 638.18 292.52 638.02 291.82 C637.87 291.11 637.90 290.19 637.54 290.09 C637.18 289.98 635.35 290.45 634.94 290.95 C634.54 291.46 634.12 293.61 634.08 294.41 C634.03 295.22 634.45 297.28 634.56 297.88 C634.67 298.47 635.40 299.34 635.04 299.51 C634.68 299.68 631.95 299.61 631.48 299.32 C631.01 299.03 631.06 298.09 631.00 297.01 C630.95 295.93 630.95 290.99 631.00 290.09 C631.06 289.18 631.39 289.80 631.48 289.22 C631.57 288.64 631.79 285.73 631.77 285.08 C631.75 284.43 631.49 283.53 631.29 283.64 C631.09 283.75 630.28 285.81 630.04 286.05 C629.80 286.28 629.32 286.05 629.27 285.66 C629.23 285.27 629.48 283.28 629.65 282.68 C629.83 282.07 630.79 280.19 630.81 280.47 C630.83 280.75 629.90 284.99 629.85 285.08Z" fill="#000"/>
<circle cx="670.24" cy="281.72" r="0.6" fill="#fff"/>
<path d="M673.13 288.16 C673.29 288.10 673.69 287.94 674.09 287.78 C674.49 287.62 675.29 287.30 675.53 287.20" fill="none" stroke="#fff" stroke-width="0.6"/>
<path d="M280.53 383.05 C280.59 381.70 280.90 379.02 281.37 377.79 C281.84 376.56 283.54 373.51 284.53 372.53 C285.51 371.54 288.56 369.86 289.79 369.37 C291.02 368.88 293.82 368.50 295.05 368.32 C296.28 368.13 299.21 367.97 300.32 367.79 C301.42 367.61 303.42 366.82 304.53 366.74 C305.63 366.65 308.68 366.93 309.79 367.05 C310.89 367.18 313.14 367.58 314.00 367.79 C314.86 368.00 316.42 368.41 317.16 368.84 C317.89 369.27 319.70 370.68 320.32 371.47 C320.93 372.27 322.05 374.58 322.42 375.68 C322.79 376.79 323.35 379.72 323.47 380.95 C323.60 382.18 323.50 384.98 323.47 386.21 C323.45 387.44 323.39 390.25 323.26 391.47 C323.14 392.70 322.70 395.82 322.42 396.74 C322.14 397.66 321.33 398.98 320.84 399.37 C320.35 399.76 318.62 400.17 318.21 400.11 C317.81 400.04 317.22 399.11 317.37 398.84 C317.52 398.57 319.11 398.28 319.47 397.79 C319.84 397.30 320.39 395.61 320.53 394.63 C320.66 393.65 320.66 390.29 320.63 389.37 C320.61 388.45 320.60 387.41 320.32 386.74 C320.03 386.06 318.82 384.16 318.21 383.58 C317.60 383.00 315.73 382.00 315.05 381.79 C314.38 381.58 312.91 381.64 312.42 381.79 C311.93 381.94 311.09 382.41 310.84 383.05 C310.60 383.69 310.25 386.16 310.32 387.26 C310.38 388.37 311.06 391.30 311.37 392.53 C311.68 393.75 312.58 396.81 312.95 397.79 C313.32 398.77 314.22 400.39 314.53 400.95 C314.83 401.50 316.01 402.31 315.58 402.53 C315.15 402.75 311.46 403.03 310.84 402.84 C310.23 402.66 310.68 401.78 310.32 400.95 C309.95 400.11 308.24 396.73 307.68 395.68 C307.13 394.64 305.95 392.34 305.58 392.00 C305.21 391.66 304.77 392.18 304.53 392.74 C304.28 393.29 303.69 395.78 303.47 396.74 C303.25 397.69 302.69 400.26 302.63 400.95 C302.57 401.64 303.34 402.44 302.95 402.63 C302.55 402.83 299.66 403.20 299.26 402.63 C298.87 402.07 299.52 398.97 299.58 397.79 C299.64 396.61 299.95 393.48 299.79 392.53 C299.63 391.57 299.01 389.89 298.21 389.58 C297.41 389.27 293.93 389.80 292.95 389.89 C291.96 389.99 290.10 389.87 289.79 390.42 C289.48 390.97 290.13 393.53 290.32 394.63 C290.50 395.74 291.12 398.96 291.37 399.89 C291.61 400.83 292.79 402.31 292.42 402.63 C292.05 402.95 288.76 403.07 288.21 402.63 C287.66 402.19 287.93 399.90 287.68 398.84 C287.44 397.79 286.47 394.07 286.11 393.58 C285.74 393.09 284.77 393.89 284.53 394.63 C284.28 395.37 283.94 398.96 284.00 399.89 C284.06 400.83 285.48 402.31 285.05 402.63 C284.62 402.95 280.75 403.20 280.32 402.63 C279.89 402.07 281.25 398.85 281.37 397.79 C281.49 396.73 281.43 394.56 281.37 393.58 C281.31 392.60 280.94 390.60 280.84 389.37 C280.74 388.14 280.46 384.40 280.53 383.05Z" fill="#000"/>
<path d="M280.53 383.58 C280.40 384.37 280.04 386.72 279.79 388.32 C279.54 389.91 279.18 392.35 279.05 393.16" fill="none" stroke="#000" stroke-width="0.9" stroke-linecap="round"/>
<path d="M320.32 385.68 C320.93 385.95 322.77 386.82 324.00 387.26 C325.23 387.70 327.07 388.14 327.68 388.32" fill="none" stroke="#000" stroke-width="1.1" stroke-linecap="round"/>
<path d="M320.53 386.00 C321.16 386.25 323.21 387.09 324.32 387.47 C325.42 387.86 326.68 388.18 327.16 388.32" fill="none" stroke="#fff" stroke-width="0.4"/>
<path d="M299.26 370.95 C299.19 371.56 298.49 373.49 298.84 374.63 C299.19 375.77 300.25 376.74 301.37 377.79 C302.49 378.84 303.88 380.04 305.58 380.95 C307.28 381.86 309.47 382.46 311.58 383.26 C313.68 384.07 316.23 385.05 318.21 385.79 C320.19 386.53 322.60 387.37 323.47 387.68" fill="none" stroke="#fff" stroke-width="0.4"/>
<circle cx="317.68" cy="375.37" r="0.5" fill="#fff"/>
</g>
</svg></body></html>
